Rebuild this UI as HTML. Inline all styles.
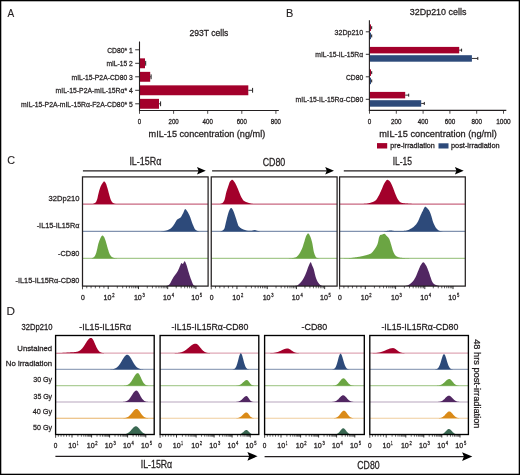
<!DOCTYPE html>
<html><head><meta charset="utf-8"><style>
html,body{margin:0;padding:0;background:#fff;}
svg{display:block;will-change:transform;}
text{font-family:"Liberation Sans", sans-serif;stroke:#231F20;stroke-width:0.27px;}
</style></head><body>
<svg width="520" height="475" viewBox="0 0 520 475">
<rect width="520" height="475" fill="#fff"/>
<rect x="0.6" y="0.6" width="518.8" height="473.8" fill="none" stroke="#000" stroke-width="1.4"/>
<text x="7.6" y="16.6" font-size="11.5" textLength="6.7" lengthAdjust="spacingAndGlyphs" fill="#231F20" style="stroke-width:0.12px">A</text>
<text x="189.5" y="36.2" font-size="9" textLength="38.9" lengthAdjust="spacingAndGlyphs" fill="#231F20" >293T cells</text>
<text x="107.2" y="52.6" font-size="7.6" textLength="25.6" lengthAdjust="spacingAndGlyphs" fill="#231F20" >CD80* 1</text>
<line x1="135.2" y1="49.8" x2="139.5" y2="49.8" stroke="#231F20" stroke-width="0.9"/>
<text x="106.4" y="66.1" font-size="7.6" textLength="26.4" lengthAdjust="spacingAndGlyphs" fill="#231F20" >mIL-15 2</text>
<line x1="135.2" y1="63.3" x2="139.5" y2="63.3" stroke="#231F20" stroke-width="0.9"/>
<text x="71.6" y="79.6" font-size="7.6" textLength="61.2" lengthAdjust="spacingAndGlyphs" fill="#231F20" >mIL-15-P2A-CD80 3</text>
<line x1="135.2" y1="76.8" x2="139.5" y2="76.8" stroke="#231F20" stroke-width="0.9"/>
<text x="55.6" y="93.1" font-size="7.6" textLength="77.2" lengthAdjust="spacingAndGlyphs" fill="#231F20" >mIL-15-P2A-mIL-15R&#945;* 4</text>
<line x1="135.2" y1="90.3" x2="139.5" y2="90.3" stroke="#231F20" stroke-width="0.9"/>
<text x="21.1" y="106.6" font-size="7.6" textLength="111.7" lengthAdjust="spacingAndGlyphs" fill="#231F20" >mIL-15-P2A-mIL-15R&#945;-F2A-CD80* 5</text>
<line x1="135.2" y1="103.8" x2="139.5" y2="103.8" stroke="#231F20" stroke-width="0.9"/>
<rect x="139.5" y="58.35" width="5.5" height="9.9" fill="#A3002B"/>
<line x1="145" y1="63.3" x2="145.7" y2="63.3" stroke="#231F20" stroke-width="0.9"/>
<line x1="145.7" y1="60.9" x2="145.7" y2="65.7" stroke="#231F20" stroke-width="1"/>
<rect x="139.5" y="71.85" width="10.7" height="9.9" fill="#A3002B"/>
<line x1="150.2" y1="76.8" x2="151.1" y2="76.8" stroke="#231F20" stroke-width="0.9"/>
<line x1="151.1" y1="74.4" x2="151.1" y2="79.2" stroke="#231F20" stroke-width="1"/>
<rect x="139.5" y="85.35" width="108.8" height="9.9" fill="#A3002B"/>
<line x1="248.3" y1="90.3" x2="252.6" y2="90.3" stroke="#231F20" stroke-width="0.9"/>
<line x1="252.6" y1="87.9" x2="252.6" y2="92.7" stroke="#231F20" stroke-width="1"/>
<rect x="139.5" y="98.85" width="19.5" height="9.9" fill="#A3002B"/>
<line x1="159" y1="103.8" x2="160.6" y2="103.8" stroke="#231F20" stroke-width="0.9"/>
<line x1="160.6" y1="101.4" x2="160.6" y2="106.2" stroke="#231F20" stroke-width="1"/>
<line x1="139.5" y1="41.5" x2="139.5" y2="111.1" stroke="#231F20" stroke-width="1.1"/>
<line x1="139" y1="110.5" x2="278.8" y2="110.5" stroke="#231F20" stroke-width="1.1"/>
<line x1="139.5" y1="110.5" x2="139.5" y2="113.8" stroke="#231F20" stroke-width="0.8"/>
<line x1="173.6" y1="110.5" x2="173.6" y2="113.8" stroke="#231F20" stroke-width="0.8"/>
<line x1="207.7" y1="110.5" x2="207.7" y2="113.8" stroke="#231F20" stroke-width="0.8"/>
<line x1="241.8" y1="110.5" x2="241.8" y2="113.8" stroke="#231F20" stroke-width="0.8"/>
<line x1="275.9" y1="110.5" x2="275.9" y2="113.8" stroke="#231F20" stroke-width="0.8"/>
<text x="137.8" y="124" font-size="6.5" textLength="3.4" lengthAdjust="spacingAndGlyphs" fill="#231F20" >0</text>
<text x="168.5" y="124" font-size="6.5" textLength="10.2" lengthAdjust="spacingAndGlyphs" fill="#231F20" >200</text>
<text x="202.6" y="124" font-size="6.5" textLength="10.2" lengthAdjust="spacingAndGlyphs" fill="#231F20" >400</text>
<text x="236.7" y="124" font-size="6.5" textLength="10.2" lengthAdjust="spacingAndGlyphs" fill="#231F20" >600</text>
<text x="270.8" y="124" font-size="6.5" textLength="10.2" lengthAdjust="spacingAndGlyphs" fill="#231F20" >800</text>
<text x="148.6" y="137" font-size="9.1" textLength="116.6" lengthAdjust="spacingAndGlyphs" fill="#231F20" >mIL-15 concentration (ng/ml)</text>
<text x="285.9" y="16.9" font-size="11.5" textLength="7.3" lengthAdjust="spacingAndGlyphs" fill="#231F20" style="stroke-width:0.12px">B</text>
<text x="409.8" y="14.7" font-size="9" textLength="56.6" lengthAdjust="spacingAndGlyphs" fill="#231F20" >32Dp210 cells</text>
<text x="334.6" y="34.6" font-size="7.6" textLength="28.6" lengthAdjust="spacingAndGlyphs" fill="#231F20" >32Dp210</text>
<line x1="365.8" y1="31.8" x2="369.4" y2="31.8" stroke="#231F20" stroke-width="0.9"/>
<text x="315.3" y="57.1" font-size="7.6" textLength="47.9" lengthAdjust="spacingAndGlyphs" fill="#231F20" >mIL-15-IL-15R&#945;</text>
<line x1="365.8" y1="54.3" x2="369.4" y2="54.3" stroke="#231F20" stroke-width="0.9"/>
<text x="345.9" y="79.6" font-size="7.6" textLength="17.3" lengthAdjust="spacingAndGlyphs" fill="#231F20" >CD80</text>
<line x1="365.8" y1="76.8" x2="369.4" y2="76.8" stroke="#231F20" stroke-width="0.9"/>
<text x="295.6" y="102.1" font-size="7.6" textLength="67.6" lengthAdjust="spacingAndGlyphs" fill="#231F20" >mIL-15-IL-15R&#945;-CD80</text>
<line x1="365.8" y1="99.3" x2="369.4" y2="99.3" stroke="#231F20" stroke-width="0.9"/>
<rect x="369.4" y="24.4" width="1.6" height="6.5" fill="#A3002B"/>
<line x1="371" y1="27.65" x2="371.7" y2="27.65" stroke="#231F20" stroke-width="0.9"/>
<line x1="371.7" y1="26.15" x2="371.7" y2="29.15" stroke="#231F20" stroke-width="1"/>
<rect x="369.4" y="32.7" width="1.6" height="6.5" fill="#2D4A7A"/>
<line x1="371" y1="35.95" x2="371.7" y2="35.95" stroke="#231F20" stroke-width="0.9"/>
<line x1="371.7" y1="34.45" x2="371.7" y2="37.45" stroke="#231F20" stroke-width="1"/>
<rect x="369.4" y="46.9" width="89.8" height="6.5" fill="#A3002B"/>
<line x1="459.2" y1="50.15" x2="461.6" y2="50.15" stroke="#231F20" stroke-width="0.9"/>
<line x1="461.6" y1="48.65" x2="461.6" y2="51.65" stroke="#231F20" stroke-width="1"/>
<rect x="369.4" y="55.2" width="102.5" height="6.5" fill="#2D4A7A"/>
<line x1="471.9" y1="58.45" x2="477.8" y2="58.45" stroke="#231F20" stroke-width="0.9"/>
<line x1="477.8" y1="56.95" x2="477.8" y2="59.95" stroke="#231F20" stroke-width="1"/>
<rect x="369.4" y="69.4" width="1.6" height="6.5" fill="#A3002B"/>
<line x1="371" y1="72.65" x2="371.7" y2="72.65" stroke="#231F20" stroke-width="0.9"/>
<line x1="371.7" y1="71.15" x2="371.7" y2="74.15" stroke="#231F20" stroke-width="1"/>
<rect x="369.4" y="77.7" width="1.6" height="6.5" fill="#2D4A7A"/>
<line x1="371" y1="80.95" x2="371.7" y2="80.95" stroke="#231F20" stroke-width="0.9"/>
<line x1="371.7" y1="79.45" x2="371.7" y2="82.45" stroke="#231F20" stroke-width="1"/>
<rect x="369.4" y="91.9" width="35.8" height="6.5" fill="#A3002B"/>
<line x1="405.2" y1="95.15" x2="408.7" y2="95.15" stroke="#231F20" stroke-width="0.9"/>
<line x1="408.7" y1="93.65" x2="408.7" y2="96.65" stroke="#231F20" stroke-width="1"/>
<rect x="369.4" y="100.2" width="51.8" height="6.5" fill="#2D4A7A"/>
<line x1="421.2" y1="103.45" x2="424.3" y2="103.45" stroke="#231F20" stroke-width="0.9"/>
<line x1="424.3" y1="101.95" x2="424.3" y2="104.95" stroke="#231F20" stroke-width="1"/>
<line x1="369.4" y1="20.2" x2="369.4" y2="111" stroke="#231F20" stroke-width="1.1"/>
<line x1="368.9" y1="110.4" x2="506.3" y2="110.4" stroke="#231F20" stroke-width="1.1"/>
<line x1="369.5" y1="110.4" x2="369.5" y2="113.7" stroke="#231F20" stroke-width="0.8"/>
<line x1="396.3" y1="110.4" x2="396.3" y2="113.7" stroke="#231F20" stroke-width="0.8"/>
<line x1="423.1" y1="110.4" x2="423.1" y2="113.7" stroke="#231F20" stroke-width="0.8"/>
<line x1="449.9" y1="110.4" x2="449.9" y2="113.7" stroke="#231F20" stroke-width="0.8"/>
<line x1="476.7" y1="110.4" x2="476.7" y2="113.7" stroke="#231F20" stroke-width="0.8"/>
<line x1="503.5" y1="110.4" x2="503.5" y2="113.7" stroke="#231F20" stroke-width="0.8"/>
<text x="367.75" y="123.8" font-size="6.5" textLength="3.5" lengthAdjust="spacingAndGlyphs" fill="#231F20" >0</text>
<text x="391.05" y="123.8" font-size="6.5" textLength="10.5" lengthAdjust="spacingAndGlyphs" fill="#231F20" >200</text>
<text x="417.85" y="123.8" font-size="6.5" textLength="10.5" lengthAdjust="spacingAndGlyphs" fill="#231F20" >400</text>
<text x="444.65" y="123.8" font-size="6.5" textLength="10.5" lengthAdjust="spacingAndGlyphs" fill="#231F20" >600</text>
<text x="471.45" y="123.8" font-size="6.5" textLength="10.5" lengthAdjust="spacingAndGlyphs" fill="#231F20" >800</text>
<text x="496.25" y="123.8" font-size="6.5" textLength="14.5" lengthAdjust="spacingAndGlyphs" fill="#231F20" >1000</text>
<text x="379.2" y="136.7" font-size="9.1" textLength="117.7" lengthAdjust="spacingAndGlyphs" fill="#231F20" >mIL-15 concentration (ng/ml)</text>
<rect x="377" y="143.1" width="10.2" height="5.4" fill="#A3002B"/>
<text x="390.3" y="148.2" font-size="7" textLength="44.5" lengthAdjust="spacingAndGlyphs" fill="#231F20" >pre-irradiation</text>
<rect x="438.5" y="143.3" width="10" height="5.2" fill="#2D4A7A"/>
<text x="451" y="148.2" font-size="7" textLength="48.7" lengthAdjust="spacingAndGlyphs" fill="#231F20" >post-irradiation</text>
<text x="7.2" y="163.9" font-size="11.5" textLength="7.8" lengthAdjust="spacingAndGlyphs" fill="#231F20" style="stroke-width:0.12px">C</text>
<text x="129.4" y="165.1" font-size="10" textLength="31.9" lengthAdjust="spacingAndGlyphs" fill="#231F20" >IL-15R&#945;</text>
<text x="262.7" y="165.6" font-size="10" textLength="22.6" lengthAdjust="spacingAndGlyphs" fill="#231F20" >CD80</text>
<text x="392.7" y="165.3" font-size="10" textLength="19.4" lengthAdjust="spacingAndGlyphs" fill="#231F20" >IL-15</text>
<line x1="82.9" y1="170.8" x2="200.52" y2="170.8" stroke="#231F20" stroke-width="1.3"/>
<path d="M205.8,170.8 L197,167.1 L198.58,170.8 L197,174.5 Z" fill="#000"/>
<line x1="212.1" y1="170.8" x2="328.72" y2="170.8" stroke="#231F20" stroke-width="1.3"/>
<path d="M334,170.8 L325.2,167.1 L326.78,170.8 L325.2,174.5 Z" fill="#000"/>
<line x1="343.8" y1="170.8" x2="458.42" y2="170.8" stroke="#231F20" stroke-width="1.3"/>
<path d="M463.7,170.8 L454.9,167.1 L456.48,170.8 L454.9,174.5 Z" fill="#000"/>
<line x1="82.5" y1="204.1" x2="208.1" y2="204.1" stroke="#A3002B" stroke-width="1.2" stroke-opacity="0.6"/>
<line x1="82.5" y1="231.4" x2="208.1" y2="231.4" stroke="#2D4A7A" stroke-width="1.2" stroke-opacity="0.6"/>
<line x1="82.5" y1="258.4" x2="208.1" y2="258.4" stroke="#6BA543" stroke-width="1.2" stroke-opacity="0.6"/>
<line x1="211.25" y1="204.1" x2="337.1" y2="204.1" stroke="#A3002B" stroke-width="1.2" stroke-opacity="0.6"/>
<line x1="211.25" y1="231.4" x2="337.1" y2="231.4" stroke="#2D4A7A" stroke-width="1.2" stroke-opacity="0.6"/>
<line x1="211.25" y1="258.4" x2="337.1" y2="258.4" stroke="#6BA543" stroke-width="1.2" stroke-opacity="0.6"/>
<line x1="339.6" y1="204.1" x2="465.3" y2="204.1" stroke="#A3002B" stroke-width="1.2" stroke-opacity="0.6"/>
<line x1="339.6" y1="231.4" x2="465.3" y2="231.4" stroke="#2D4A7A" stroke-width="1.2" stroke-opacity="0.6"/>
<line x1="339.6" y1="258.4" x2="465.3" y2="258.4" stroke="#6BA543" stroke-width="1.2" stroke-opacity="0.6"/>
<path d="M92.5,204.1 L92.5,204.1 L92.75,204.01 L93,203.92 L93.25,203.81 L93.5,203.7 L93.75,203.58 L94,203.46 L94.25,203.34 L94.5,203.21 L94.75,203.06 L95,202.9 L95.25,202.71 L95.5,202.49 L95.75,202.24 L96,201.88 L96.25,201.44 L96.5,200.92 L96.75,200.32 L97,199.67 L97.25,198.92 L97.5,197.92 L97.75,196.76 L98,195.57 L98.25,194.49 L98.5,193.46 L98.75,192.43 L99,191.43 L99.25,190.51 L99.5,189.68 L99.75,188.9 L100,188.16 L100.25,187.46 L100.5,186.81 L100.75,186.22 L101,185.69 L101.25,185.2 L101.5,184.74 L101.75,184.3 L102,183.9 L102.25,183.52 L102.5,183.17 L102.75,182.83 L103,182.48 L103.25,182.13 L103.5,181.8 L103.75,181.55 L104,181.41 L104.25,181.42 L104.5,181.55 L104.75,181.77 L105,182.06 L105.25,182.39 L105.5,182.75 L105.75,183.15 L106,183.69 L106.25,184.36 L106.5,185.1 L106.75,185.89 L107,186.69 L107.25,187.48 L107.5,188.32 L107.75,189.2 L108,190.11 L108.25,191.02 L108.5,191.94 L108.75,192.89 L109,193.85 L109.25,194.77 L109.5,195.65 L109.75,196.52 L110,197.4 L110.25,198.24 L110.5,199 L110.75,199.67 L111,200.2 L111.25,200.69 L111.5,201.15 L111.75,201.56 L112,201.94 L112.25,202.26 L112.5,202.53 L112.75,202.74 L113,202.91 L113.25,203.08 L113.5,203.22 L113.75,203.35 L114,203.46 L114.25,203.56 L114.5,203.64 L114.75,203.71 L115,203.78 L115.25,203.84 L115.5,203.9 L115.75,203.95 L116,204 L116.25,204.04 L116.5,204.07 L116.75,204.09 L117,204.1 L117,204.1 Z" fill="#A3002B"/>
<path d="M160.5,231.4 L160.5,231.4 L160.75,231.4 L161,231.39 L161.25,231.38 L161.5,231.36 L161.75,231.34 L162,231.32 L162.25,231.29 L162.5,231.26 L162.75,231.23 L163,231.19 L163.25,231.15 L163.5,231.11 L163.75,231.07 L164,231.02 L164.25,230.97 L164.5,230.92 L164.75,230.87 L165,230.82 L165.25,230.77 L165.5,230.71 L165.75,230.66 L166,230.6 L166.25,230.54 L166.5,230.48 L166.75,230.4 L167,230.33 L167.25,230.24 L167.5,230.15 L167.75,230.05 L168,229.95 L168.25,229.84 L168.5,229.73 L168.75,229.61 L169,229.48 L169.25,229.35 L169.5,229.21 L169.75,229.07 L170,228.92 L170.25,228.76 L170.5,228.6 L170.75,228.43 L171,228.25 L171.25,228.04 L171.5,227.81 L171.75,227.55 L172,227.26 L172.25,226.96 L172.5,226.64 L172.75,226.32 L173,225.98 L173.25,225.63 L173.5,225.28 L173.75,224.93 L174,224.58 L174.25,224.23 L174.5,223.86 L174.75,223.45 L175,223.02 L175.25,222.57 L175.5,222.11 L175.75,221.66 L176,221.23 L176.25,220.81 L176.5,220.43 L176.75,220.09 L177,219.8 L177.25,219.56 L177.5,219.36 L177.75,219.18 L178,219.02 L178.25,218.88 L178.5,218.74 L178.75,218.61 L179,218.49 L179.25,218.35 L179.5,218.22 L179.75,218.07 L180,217.9 L180.25,217.71 L180.5,217.49 L180.75,217.24 L181,216.93 L181.25,216.58 L181.5,216.17 L181.75,215.74 L182,215.28 L182.25,214.81 L182.5,214.33 L182.75,213.86 L183,213.4 L183.25,212.89 L183.5,212.3 L183.75,211.65 L184,211.01 L184.25,210.39 L184.5,209.86 L184.75,209.43 L185,209.17 L185.25,209.1 L185.5,209.18 L185.75,209.34 L186,209.59 L186.25,209.89 L186.5,210.23 L186.75,210.59 L187,210.97 L187.25,211.33 L187.5,211.69 L187.75,212.08 L188,212.5 L188.25,212.95 L188.5,213.43 L188.75,213.92 L189,214.44 L189.25,214.98 L189.5,215.53 L189.75,216.09 L190,216.67 L190.25,217.32 L190.5,218.01 L190.75,218.73 L191,219.48 L191.25,220.24 L191.5,221 L191.75,221.76 L192,222.48 L192.25,223.18 L192.5,223.82 L192.75,224.41 L193,225 L193.25,225.6 L193.5,226.2 L193.75,226.79 L194,227.36 L194.25,227.9 L194.5,228.41 L194.75,228.86 L195,229.26 L195.25,229.58 L195.5,229.83 L195.75,230 L196,230.15 L196.25,230.3 L196.5,230.45 L196.75,230.58 L197,230.71 L197.25,230.83 L197.5,230.93 L197.75,231.03 L198,231.12 L198.25,231.2 L198.5,231.26 L198.75,231.32 L199,231.36 L199.25,231.39 L199.5,231.4 L199.5,231.4 Z" fill="#2D4A7A"/>
<path d="M91.5,258.4 L91.5,258.4 L91.75,258.32 L92,258.22 L92.25,258.12 L92.5,258 L92.75,257.87 L93,257.74 L93.25,257.6 L93.5,257.45 L93.75,257.27 L94,257.08 L94.25,256.85 L94.5,256.6 L94.75,256.27 L95,255.84 L95.25,255.31 L95.5,254.72 L95.75,254.08 L96,253.4 L96.25,252.63 L96.5,251.74 L96.75,250.76 L97,249.73 L97.25,248.69 L97.5,247.54 L97.75,246.32 L98,245.13 L98.25,244.08 L98.5,243.22 L98.75,242.43 L99,241.7 L99.25,241.02 L99.5,240.37 L99.75,239.76 L100,239.16 L100.25,238.56 L100.5,237.98 L100.75,237.43 L101,236.96 L101.25,236.57 L101.5,236.24 L101.75,235.93 L102,235.66 L102.25,235.47 L102.5,235.4 L102.75,235.46 L103,235.63 L103.25,235.88 L103.5,236.2 L103.75,236.54 L104,236.9 L104.25,237.32 L104.5,237.85 L104.75,238.47 L105,239.15 L105.25,239.87 L105.5,240.61 L105.75,241.36 L106,242.18 L106.25,243.06 L106.5,243.97 L106.75,244.87 L107,245.75 L107.25,246.65 L107.5,247.56 L107.75,248.44 L108,249.28 L108.25,250.07 L108.5,250.86 L108.75,251.63 L109,252.38 L109.25,253.07 L109.5,253.68 L109.75,254.21 L110,254.65 L110.25,255.07 L110.5,255.46 L110.75,255.82 L111,256.14 L111.25,256.43 L111.5,256.67 L111.75,256.87 L112,257.02 L112.25,257.17 L112.5,257.3 L112.75,257.42 L113,257.53 L113.25,257.64 L113.5,257.73 L113.75,257.81 L114,257.88 L114.25,257.95 L114.5,258 L114.75,258.05 L115,258.1 L115.25,258.15 L115.5,258.19 L115.75,258.24 L116,258.28 L116.25,258.31 L116.5,258.34 L116.75,258.37 L117,258.38 L117.25,258.4 L117.5,258.4 L117.5,258.4 Z" fill="#6BA543"/>
<path d="M165,286.1 L165,286.1 L165.25,286.09 L165.5,286.07 L165.75,286.04 L166,286 L166.25,285.94 L166.5,285.88 L166.75,285.8 L167,285.72 L167.25,285.63 L167.5,285.54 L167.75,285.43 L168,285.33 L168.25,285.21 L168.5,285.1 L168.75,284.96 L169,284.76 L169.25,284.51 L169.5,284.22 L169.75,283.89 L170,283.53 L170.25,283.13 L170.5,282.71 L170.75,282.26 L171,281.8 L171.25,281.32 L171.5,280.84 L171.75,280.35 L172,279.86 L172.25,279.37 L172.5,278.89 L172.75,278.43 L173,277.98 L173.25,277.55 L173.5,277.15 L173.75,276.78 L174,276.42 L174.25,276.07 L174.5,275.74 L174.75,275.41 L175,275.08 L175.25,274.76 L175.5,274.44 L175.75,274.11 L176,273.78 L176.25,273.44 L176.5,273.09 L176.75,272.73 L177,272.35 L177.25,271.96 L177.5,271.55 L177.75,271.11 L178,270.64 L178.25,270.12 L178.5,269.57 L178.75,268.99 L179,268.4 L179.25,267.8 L179.5,267.2 L179.75,266.61 L180,266.04 L180.25,265.49 L180.5,264.85 L180.75,264.16 L181,263.56 L181.25,263.17 L181.5,263.11 L181.75,263.23 L182,263.41 L182.25,263.63 L182.5,263.81 L182.75,263.9 L183,263.81 L183.25,263.49 L183.5,263.03 L183.75,262.49 L184,261.97 L184.25,261.56 L184.5,261.32 L184.75,261.34 L185,261.57 L185.25,261.95 L185.5,262.46 L185.75,263.03 L186,263.63 L186.25,264.22 L186.5,264.89 L186.75,265.67 L187,266.53 L187.25,267.44 L187.5,268.36 L187.75,269.26 L188,270.1 L188.25,270.91 L188.5,271.72 L188.75,272.54 L189,273.35 L189.25,274.16 L189.5,274.96 L189.75,275.74 L190,276.51 L190.25,277.25 L190.5,277.97 L190.75,278.65 L191,279.3 L191.25,279.94 L191.5,280.61 L191.75,281.28 L192,281.95 L192.25,282.6 L192.5,283.21 L192.75,283.77 L193,284.27 L193.25,284.7 L193.5,285.04 L193.75,285.27 L194,285.42 L194.25,285.56 L194.5,285.69 L194.75,285.8 L195,285.9 L195.25,285.99 L195.5,286.05 L195.75,286.09 L196,286.1 L196,286.1 Z" fill="#512762"/>
<path d="M219,204.1 L219,204.1 L219.25,204.09 L219.5,204.07 L219.75,204.04 L220,203.99 L220.25,203.94 L220.5,203.87 L220.75,203.79 L221,203.71 L221.25,203.61 L221.5,203.52 L221.75,203.41 L222,203.3 L222.25,203.16 L222.5,202.98 L222.75,202.76 L223,202.5 L223.25,202.19 L223.5,201.85 L223.75,201.47 L224,201.05 L224.25,200.6 L224.5,199.97 L224.75,199.12 L225,198.1 L225.25,196.98 L225.5,195.8 L225.75,194.61 L226,193.48 L226.25,192.45 L226.5,191.56 L226.75,190.74 L227,189.95 L227.25,189.2 L227.5,188.46 L227.75,187.73 L228,187.01 L228.25,186.24 L228.5,185.45 L228.75,184.65 L229,183.89 L229.25,183.17 L229.5,182.54 L229.75,182 L230,181.6 L230.25,181.27 L230.5,180.96 L230.75,180.66 L231,180.39 L231.25,180.15 L231.5,179.95 L231.75,179.81 L232,179.72 L232.25,179.7 L232.5,179.77 L232.75,179.91 L233,180.12 L233.25,180.39 L233.5,180.7 L233.75,181.04 L234,181.4 L234.25,181.75 L234.5,182.1 L234.75,182.46 L235,182.85 L235.25,183.28 L235.5,183.74 L235.75,184.23 L236,184.74 L236.25,185.27 L236.5,185.81 L236.75,186.37 L237,186.93 L237.25,187.49 L237.5,188.05 L237.75,188.61 L238,189.19 L238.25,189.8 L238.5,190.42 L238.75,191.04 L239,191.66 L239.25,192.26 L239.5,192.89 L239.75,193.53 L240,194.17 L240.25,194.79 L240.5,195.4 L240.75,195.98 L241,196.52 L241.25,197.01 L241.5,197.45 L241.75,197.89 L242,198.32 L242.25,198.74 L242.5,199.13 L242.75,199.51 L243,199.86 L243.25,200.18 L243.5,200.46 L243.75,200.7 L244,200.9 L244.25,201.07 L244.5,201.23 L244.75,201.37 L245,201.5 L245.25,201.63 L245.5,201.74 L245.75,201.85 L246,201.95 L246.25,202.05 L246.5,202.14 L246.75,202.23 L247,202.32 L247.25,202.41 L247.5,202.5 L247.75,202.59 L248,202.68 L248.25,202.77 L248.5,202.86 L248.75,202.94 L249,203.03 L249.25,203.11 L249.5,203.19 L249.75,203.27 L250,203.35 L250.25,203.42 L250.5,203.49 L250.75,203.55 L251,203.61 L251.25,203.67 L251.5,203.72 L251.75,203.76 L252,203.8 L252.25,203.84 L252.5,203.87 L252.75,203.9 L253,203.94 L253.25,203.97 L253.5,203.99 L253.75,204.02 L254,204.04 L254.25,204.06 L254.5,204.08 L254.75,204.09 L255,204.1 L255,204.1 Z" fill="#A3002B"/>
<path d="M220,231.4 L220,231.4 L220.25,231.38 L220.5,231.34 L220.75,231.28 L221,231.2 L221.25,231.11 L221.5,231.02 L221.75,230.91 L222,230.8 L222.25,230.68 L222.5,230.55 L222.75,230.39 L223,230.21 L223.25,230 L223.5,229.76 L223.75,229.49 L224,229.18 L224.25,228.82 L224.5,228.24 L224.75,227.4 L225,226.4 L225.25,225.29 L225.5,224.17 L225.75,223.1 L226,222.09 L226.25,221.03 L226.5,219.95 L226.75,218.88 L227,217.85 L227.25,216.88 L227.5,215.97 L227.75,215.06 L228,214.16 L228.25,213.28 L228.5,212.46 L228.75,211.71 L229,211.05 L229.25,210.5 L229.5,210.03 L229.75,209.56 L230,209.12 L230.25,208.71 L230.5,208.37 L230.75,208.1 L231,207.94 L231.25,207.9 L231.5,208 L231.75,208.21 L232,208.52 L232.25,208.91 L232.5,209.35 L232.75,209.83 L233,210.32 L233.25,210.81 L233.5,211.3 L233.75,211.88 L234,212.53 L234.25,213.22 L234.5,213.96 L234.75,214.73 L235,215.5 L235.25,216.28 L235.5,217.03 L235.75,217.76 L236,218.48 L236.25,219.25 L236.5,220.05 L236.75,220.88 L237,221.72 L237.25,222.54 L237.5,223.33 L237.75,224.08 L238,224.77 L238.25,225.39 L238.5,225.9 L238.75,226.31 L239,226.61 L239.25,226.86 L239.5,227.1 L239.75,227.33 L240,227.54 L240.25,227.74 L240.5,227.93 L240.75,228.11 L241,228.27 L241.25,228.43 L241.5,228.57 L241.75,228.71 L242,228.84 L242.25,228.96 L242.5,229.08 L242.75,229.19 L243,229.29 L243.25,229.39 L243.5,229.49 L243.75,229.58 L244,229.67 L244.25,229.76 L244.5,229.85 L244.75,229.94 L245,230.03 L245.25,230.11 L245.5,230.19 L245.75,230.27 L246,230.34 L246.25,230.41 L246.5,230.47 L246.75,230.53 L247,230.58 L247.25,230.62 L247.5,230.65 L247.75,230.68 L248,230.7 L248.25,230.71 L248.5,230.73 L248.75,230.74 L249,230.75 L249.25,230.76 L249.5,230.77 L249.75,230.78 L250,230.79 L250.25,230.79 L250.5,230.8 L250.75,230.8 L251,230.8 L251.25,230.79 L251.5,230.77 L251.75,230.73 L252,230.68 L252.25,230.62 L252.5,230.56 L252.75,230.49 L253,230.42 L253.25,230.35 L253.5,230.29 L253.75,230.23 L254,230.18 L254.25,230.14 L254.5,230.11 L254.75,230.1 L255,230.11 L255.25,230.15 L255.5,230.21 L255.75,230.28 L256,230.37 L256.25,230.46 L256.5,230.55 L256.75,230.63 L257,230.7 L257.25,230.76 L257.5,230.82 L257.75,230.89 L258,230.95 L258.25,231.01 L258.5,231.07 L258.75,231.12 L259,231.18 L259.25,231.24 L259.5,231.29 L259.75,231.35 L260,231.4 L260,231.4 Z" fill="#2D4A7A"/>
<path d="M288,258.4 L288,258.4 L288.25,258.4 L288.5,258.39 L288.75,258.38 L289,258.37 L289.25,258.36 L289.5,258.34 L289.75,258.32 L290,258.3 L290.25,258.28 L290.5,258.26 L290.75,258.23 L291,258.21 L291.25,258.18 L291.5,258.16 L291.75,258.13 L292,258.1 L292.25,258.07 L292.5,258.04 L292.75,258.01 L293,257.97 L293.25,257.93 L293.5,257.89 L293.75,257.84 L294,257.79 L294.25,257.74 L294.5,257.68 L294.75,257.62 L295,257.55 L295.25,257.48 L295.5,257.4 L295.75,257.32 L296,257.22 L296.25,257.08 L296.5,256.92 L296.75,256.73 L297,256.51 L297.25,256.27 L297.5,256.02 L297.75,255.75 L298,255.47 L298.25,255.19 L298.5,254.9 L298.75,254.59 L299,254.25 L299.25,253.88 L299.5,253.49 L299.75,253.08 L300,252.65 L300.25,252.21 L300.5,251.76 L300.75,251.29 L301,250.8 L301.25,250.29 L301.5,249.76 L301.75,249.2 L302,248.63 L302.25,248.02 L302.5,247.38 L302.75,246.68 L303,245.94 L303.25,245.16 L303.5,244.37 L303.75,243.58 L304,242.8 L304.25,242 L304.5,241.13 L304.75,240.24 L305,239.35 L305.25,238.48 L305.5,237.66 L305.75,236.93 L306,236.3 L306.25,235.81 L306.5,235.36 L306.75,234.92 L307,234.51 L307.25,234.14 L307.5,233.82 L307.75,233.58 L308,233.44 L308.25,233.4 L308.5,233.5 L308.75,233.73 L309,234.06 L309.25,234.48 L309.5,234.95 L309.75,235.46 L310,235.99 L310.25,236.5 L310.5,237.08 L310.75,237.74 L311,238.47 L311.25,239.28 L311.5,240.14 L311.75,241.05 L312,242.01 L312.25,243.01 L312.5,244.21 L312.75,245.63 L313,247.18 L313.25,248.74 L313.5,250.22 L313.75,251.54 L314,252.58 L314.25,253.33 L314.5,254.02 L314.75,254.68 L315,255.3 L315.25,255.87 L315.5,256.38 L315.75,256.82 L316,257.18 L316.25,257.47 L316.5,257.65 L316.75,257.76 L317,257.85 L317.25,257.93 L317.5,258.01 L317.75,258.08 L318,258.15 L318.25,258.2 L318.5,258.25 L318.75,258.3 L319,258.33 L319.25,258.36 L319.5,258.38 L319.75,258.4 L320,258.4 L320,258.4 Z" fill="#6BA543"/>
<path d="M291,286.1 L291,286.1 L291.25,286.1 L291.5,286.1 L291.75,286.09 L292,286.09 L292.25,286.08 L292.5,286.07 L292.75,286.06 L293,286.04 L293.25,286.03 L293.5,286.01 L293.75,285.99 L294,285.97 L294.25,285.95 L294.5,285.93 L294.75,285.9 L295,285.88 L295.25,285.85 L295.5,285.82 L295.75,285.79 L296,285.76 L296.25,285.72 L296.5,285.68 L296.75,285.62 L297,285.52 L297.25,285.39 L297.5,285.25 L297.75,285.08 L298,284.89 L298.25,284.69 L298.5,284.48 L298.75,284.26 L299,284.04 L299.25,283.82 L299.5,283.6 L299.75,283.38 L300,283.14 L300.25,282.88 L300.5,282.61 L300.75,282.32 L301,282.03 L301.25,281.72 L301.5,281.4 L301.75,281.07 L302,280.74 L302.25,280.39 L302.5,280.03 L302.75,279.66 L303,279.27 L303.25,278.87 L303.5,278.45 L303.75,278.01 L304,277.56 L304.25,277.09 L304.5,276.6 L304.75,276.08 L305,275.53 L305.25,274.95 L305.5,274.34 L305.75,273.71 L306,273.08 L306.25,272.44 L306.5,271.8 L306.75,271.14 L307,270.45 L307.25,269.73 L307.5,269.01 L307.75,268.29 L308,267.58 L308.25,266.91 L308.5,266.28 L308.75,265.71 L309,265.16 L309.25,264.58 L309.5,264 L309.75,263.45 L310,262.97 L310.25,262.6 L310.5,262.36 L310.75,262.31 L311,262.54 L311.25,263.02 L311.5,263.67 L311.75,264.39 L312,265.1 L312.25,265.71 L312.5,266.26 L312.75,266.79 L313,267.35 L313.25,267.94 L313.5,268.6 L313.75,269.37 L314,270.27 L314.25,271.26 L314.5,272.32 L314.75,273.4 L315,274.48 L315.25,275.52 L315.5,276.49 L315.75,277.36 L316,278.1 L316.25,278.74 L316.5,279.36 L316.75,279.93 L317,280.48 L317.25,280.99 L317.5,281.46 L317.75,281.9 L318,282.3 L318.25,282.67 L318.5,283.02 L318.75,283.35 L319,283.67 L319.25,283.96 L319.5,284.24 L319.75,284.49 L320,284.71 L320.25,284.9 L320.5,285.06 L320.75,285.21 L321,285.36 L321.25,285.5 L321.5,285.63 L321.75,285.75 L322,285.86 L322.25,285.95 L322.5,286.02 L322.75,286.07 L323,286.1 L323,286.1 Z" fill="#512762"/>
<path d="M358,204.1 L358,204.1 L358.25,204.1 L358.5,204.1 L358.75,204.1 L359,204.09 L359.25,204.09 L359.5,204.08 L359.75,204.08 L360,204.07 L360.25,204.06 L360.5,204.06 L360.75,204.05 L361,204.04 L361.25,204.03 L361.5,204.02 L361.75,204 L362,203.99 L362.25,203.98 L362.5,203.97 L362.75,203.95 L363,203.94 L363.25,203.92 L363.5,203.91 L363.75,203.89 L364,203.87 L364.25,203.85 L364.5,203.84 L364.75,203.82 L365,203.8 L365.25,203.78 L365.5,203.76 L365.75,203.74 L366,203.72 L366.25,203.7 L366.5,203.67 L366.75,203.64 L367,203.61 L367.25,203.57 L367.5,203.52 L367.75,203.47 L368,203.42 L368.25,203.37 L368.5,203.31 L368.75,203.25 L369,203.18 L369.25,203.11 L369.5,203.04 L369.75,202.97 L370,202.9 L370.25,202.83 L370.5,202.75 L370.75,202.68 L371,202.6 L371.25,202.52 L371.5,202.44 L371.75,202.36 L372,202.28 L372.25,202.19 L372.5,202.1 L372.75,202.01 L373,201.91 L373.25,201.8 L373.5,201.69 L373.75,201.57 L374,201.45 L374.25,201.32 L374.5,201.18 L374.75,201.03 L375,200.87 L375.25,200.71 L375.5,200.52 L375.75,200.3 L376,200.04 L376.25,199.74 L376.5,199.41 L376.75,199.05 L377,198.66 L377.25,198.26 L377.5,197.84 L377.75,197.41 L378,196.97 L378.25,196.53 L378.5,196.1 L378.75,195.66 L379,195.19 L379.25,194.7 L379.5,194.18 L379.75,193.66 L380,193.12 L380.25,192.57 L380.5,192.01 L380.75,191.46 L381,190.9 L381.25,190.35 L381.5,189.8 L381.75,189.24 L382,188.66 L382.25,188.05 L382.5,187.44 L382.75,186.82 L383,186.2 L383.25,185.6 L383.5,185.02 L383.75,184.48 L384,183.97 L384.25,183.51 L384.5,183.1 L384.75,182.72 L385,182.32 L385.25,181.93 L385.5,181.55 L385.75,181.18 L386,180.84 L386.25,180.53 L386.5,180.27 L386.75,180.05 L387,179.9 L387.25,179.81 L387.5,179.8 L387.75,179.85 L388,179.93 L388.25,180.06 L388.5,180.22 L388.75,180.41 L389,180.62 L389.25,180.85 L389.5,181.09 L389.75,181.34 L390,181.6 L390.25,181.9 L390.5,182.26 L390.75,182.69 L391,183.17 L391.25,183.68 L391.5,184.22 L391.75,184.78 L392,185.34 L392.25,185.89 L392.5,186.45 L392.75,187.03 L393,187.65 L393.25,188.29 L393.5,188.96 L393.75,189.63 L394,190.32 L394.25,191.01 L394.5,191.71 L394.75,192.39 L395,193.07 L395.25,193.73 L395.5,194.37 L395.75,194.98 L396,195.56 L396.25,196.11 L396.5,196.64 L396.75,197.17 L397,197.7 L397.25,198.2 L397.5,198.69 L397.75,199.15 L398,199.57 L398.25,199.96 L398.5,200.3 L398.75,200.61 L399,200.92 L399.25,201.22 L399.5,201.5 L399.75,201.76 L400,201.99 L400.25,202.19 L400.5,202.36 L400.75,202.48 L401,202.57 L401.25,202.66 L401.5,202.74 L401.75,202.81 L402,202.88 L402.25,202.94 L402.5,203 L402.75,203.06 L403,203.11 L403.25,203.16 L403.5,203.2 L403.75,203.24 L404,203.28 L404.25,203.31 L404.5,203.34 L404.75,203.37 L405,203.4 L405.25,203.43 L405.5,203.45 L405.75,203.47 L406,203.49 L406.25,203.51 L406.5,203.53 L406.75,203.55 L407,203.56 L407.25,203.58 L407.5,203.59 L407.75,203.61 L408,203.62 L408.25,203.64 L408.5,203.65 L408.75,203.67 L409,203.69 L409.25,203.7 L409.5,203.72 L409.75,203.74 L410,203.76 L410.25,203.77 L410.5,203.79 L410.75,203.81 L411,203.83 L411.25,203.84 L411.5,203.86 L411.75,203.88 L412,203.9 L412.25,203.91 L412.5,203.93 L412.75,203.95 L413,203.96 L413.25,203.98 L413.5,204 L413.75,204.02 L414,204.03 L414.25,204.05 L414.5,204.07 L414.75,204.08 L415,204.1 L415,204.1 Z" fill="#A3002B"/>
<path d="M384,231.4 L384,231.4 L384.25,231.35 L384.5,231.3 L384.75,231.26 L385,231.21 L385.25,231.17 L385.5,231.13 L385.75,231.08 L386,231.04 L386.25,231.01 L386.5,230.97 L386.75,230.93 L387,230.9 L387.25,230.87 L387.5,230.83 L387.75,230.8 L388,230.76 L388.25,230.73 L388.5,230.69 L388.75,230.66 L389,230.63 L389.25,230.6 L389.5,230.57 L389.75,230.55 L390,230.53 L390.25,230.51 L390.5,230.5 L390.75,230.5 L391,230.5 L391.25,230.52 L391.5,230.54 L391.75,230.57 L392,230.61 L392.25,230.65 L392.5,230.7 L392.75,230.74 L393,230.78 L393.25,230.82 L393.5,230.85 L393.75,230.88 L394,230.9 L394.25,230.91 L394.5,230.93 L394.75,230.94 L395,230.95 L395.25,230.97 L395.5,230.98 L395.75,230.99 L396,231 L396.25,231.01 L396.5,231.02 L396.75,231.03 L397,231.04 L397.25,231.05 L397.5,231.06 L397.75,231.07 L398,231.07 L398.25,231.08 L398.5,231.08 L398.75,231.09 L399,231.09 L399.25,231.1 L399.5,231.1 L399.75,231.1 L400,231.1 L400.25,231.1 L400.5,231.1 L400.75,231.09 L401,231.08 L401.25,231.08 L401.5,231.06 L401.75,231.05 L402,231.04 L402.25,231.02 L402.5,231.01 L402.75,230.99 L403,230.97 L403.25,230.94 L403.5,230.92 L403.75,230.9 L404,230.87 L404.25,230.84 L404.5,230.82 L404.75,230.79 L405,230.76 L405.25,230.73 L405.5,230.69 L405.75,230.66 L406,230.63 L406.25,230.59 L406.5,230.55 L406.75,230.5 L407,230.43 L407.25,230.36 L407.5,230.28 L407.75,230.19 L408,230.1 L408.25,230 L408.5,229.89 L408.75,229.77 L409,229.65 L409.25,229.53 L409.5,229.4 L409.75,229.27 L410,229.14 L410.25,229.01 L410.5,228.87 L410.75,228.74 L411,228.6 L411.25,228.46 L411.5,228.32 L411.75,228.17 L412,228.01 L412.25,227.85 L412.5,227.68 L412.75,227.5 L413,227.32 L413.25,227.13 L413.5,226.94 L413.75,226.73 L414,226.52 L414.25,226.31 L414.5,226.08 L414.75,225.85 L415,225.6 L415.25,225.35 L415.5,225.09 L415.75,224.81 L416,224.51 L416.25,224.19 L416.5,223.84 L416.75,223.48 L417,223.1 L417.25,222.7 L417.5,222.28 L417.75,221.85 L418,221.4 L418.25,220.91 L418.5,220.36 L418.75,219.77 L419,219.15 L419.25,218.52 L419.5,217.89 L419.75,217.28 L420,216.7 L420.25,216.14 L420.5,215.58 L420.75,215.02 L421,214.47 L421.25,213.93 L421.5,213.39 L421.75,212.87 L422,212.36 L422.25,211.87 L422.5,211.4 L422.75,210.92 L423,210.4 L423.25,209.86 L423.5,209.32 L423.75,208.79 L424,208.28 L424.25,207.82 L424.5,207.42 L424.75,207.09 L425,206.86 L425.25,206.72 L425.5,206.71 L425.75,206.8 L426,206.97 L426.25,207.2 L426.5,207.48 L426.75,207.77 L427,208.07 L427.25,208.35 L427.5,208.6 L427.75,208.85 L428,209.1 L428.25,209.37 L428.5,209.65 L428.75,209.96 L429,210.3 L429.25,210.68 L429.5,211.13 L429.75,211.66 L430,212.25 L430.25,212.9 L430.5,213.58 L430.75,214.29 L431,215.02 L431.25,215.75 L431.5,216.53 L431.75,217.4 L432,218.34 L432.25,219.29 L432.5,220.22 L432.75,221.09 L433,221.84 L433.25,222.47 L433.5,223.07 L433.75,223.65 L434,224.22 L434.25,224.77 L434.5,225.29 L434.75,225.8 L435,226.28 L435.25,226.73 L435.5,227.16 L435.75,227.56 L436,227.93 L436.25,228.27 L436.5,228.58 L436.75,228.85 L437,229.09 L437.25,229.32 L437.5,229.54 L437.75,229.75 L438,229.95 L438.25,230.14 L438.5,230.31 L438.75,230.47 L439,230.61 L439.25,230.74 L439.5,230.85 L439.75,230.93 L440,231 L440.25,231.05 L440.5,231.11 L440.75,231.16 L441,231.2 L441.25,231.24 L441.5,231.28 L441.75,231.32 L442,231.35 L442.25,231.37 L442.5,231.39 L442.75,231.4 L443,231.4 L443,231.4 Z" fill="#2D4A7A"/>
<path d="M342,258.4 L342,258.4 L342.25,258.4 L342.5,258.4 L342.75,258.4 L343,258.39 L343.25,258.39 L343.5,258.38 L343.75,258.38 L344,258.37 L344.25,258.36 L344.5,258.35 L344.75,258.34 L345,258.33 L345.25,258.32 L345.5,258.31 L345.75,258.3 L346,258.29 L346.25,258.27 L346.5,258.26 L346.75,258.25 L347,258.23 L347.25,258.22 L347.5,258.2 L347.75,258.19 L348,258.17 L348.25,258.16 L348.5,258.14 L348.75,258.13 L349,258.11 L349.25,258.1 L349.5,258.08 L349.75,258.06 L350,258.04 L350.25,258.02 L350.5,257.99 L350.75,257.97 L351,257.94 L351.25,257.91 L351.5,257.88 L351.75,257.85 L352,257.82 L352.25,257.78 L352.5,257.75 L352.75,257.72 L353,257.68 L353.25,257.65 L353.5,257.61 L353.75,257.58 L354,257.54 L354.25,257.51 L354.5,257.47 L354.75,257.43 L355,257.4 L355.25,257.37 L355.5,257.33 L355.75,257.29 L356,257.26 L356.25,257.22 L356.5,257.19 L356.75,257.15 L357,257.11 L357.25,257.07 L357.5,257.03 L357.75,256.99 L358,256.95 L358.25,256.91 L358.5,256.87 L358.75,256.83 L359,256.78 L359.25,256.74 L359.5,256.69 L359.75,256.65 L360,256.6 L360.25,256.55 L360.5,256.5 L360.75,256.45 L361,256.4 L361.25,256.35 L361.5,256.3 L361.75,256.25 L362,256.2 L362.25,256.14 L362.5,256.09 L362.75,256.03 L363,255.97 L363.25,255.91 L363.5,255.85 L363.75,255.79 L364,255.73 L364.25,255.67 L364.5,255.6 L364.75,255.54 L365,255.47 L365.25,255.41 L365.5,255.34 L365.75,255.27 L366,255.2 L366.25,255.13 L366.5,255.06 L366.75,254.99 L367,254.92 L367.25,254.85 L367.5,254.78 L367.75,254.71 L368,254.63 L368.25,254.56 L368.5,254.48 L368.75,254.39 L369,254.3 L369.25,254.21 L369.5,254.11 L369.75,254.01 L370,253.9 L370.25,253.78 L370.5,253.66 L370.75,253.53 L371,253.38 L371.25,253.21 L371.5,253.01 L371.75,252.79 L372,252.55 L372.25,252.29 L372.5,252.01 L372.75,251.72 L373,251.42 L373.25,251.1 L373.5,250.77 L373.75,250.43 L374,250.09 L374.25,249.75 L374.5,249.4 L374.75,249.05 L375,248.7 L375.25,248.34 L375.5,247.96 L375.75,247.57 L376,247.16 L376.25,246.72 L376.5,246.26 L376.75,245.76 L377,245.22 L377.25,244.65 L377.5,244.03 L377.75,243.35 L378,242.41 L378.25,241.2 L378.5,239.88 L378.75,238.6 L379,237.52 L379.25,236.78 L379.5,236.19 L379.75,235.68 L380,235.27 L380.25,235.03 L380.5,234.92 L380.75,234.85 L381,234.79 L381.25,234.75 L381.5,234.71 L381.75,234.66 L382,234.6 L382.25,234.52 L382.5,234.42 L382.75,234.31 L383,234.19 L383.25,234.08 L383.5,233.97 L383.75,233.89 L384,233.83 L384.25,233.8 L384.5,233.83 L384.75,233.94 L385,234.11 L385.25,234.34 L385.5,234.61 L385.75,234.91 L386,235.21 L386.25,235.51 L386.5,235.8 L386.75,236.05 L387,236.29 L387.25,236.53 L387.5,236.77 L387.75,237.02 L388,237.28 L388.25,237.56 L388.5,237.87 L388.75,238.2 L389,238.57 L389.25,238.99 L389.5,239.51 L389.75,240.16 L390,240.9 L390.25,241.7 L390.5,242.55 L390.75,243.41 L391,244.25 L391.25,245.06 L391.5,245.89 L391.75,246.78 L392,247.68 L392.25,248.57 L392.5,249.43 L392.75,250.23 L393,250.94 L393.25,251.56 L393.5,252.16 L393.75,252.72 L394,253.25 L394.25,253.74 L394.5,254.18 L394.75,254.57 L395,254.9 L395.25,255.19 L395.5,255.45 L395.75,255.7 L396,255.92 L396.25,256.13 L396.5,256.31 L396.75,256.47 L397,256.6 L397.25,256.72 L397.5,256.83 L397.75,256.94 L398,257.04 L398.25,257.13 L398.5,257.22 L398.75,257.3 L399,257.37 L399.25,257.44 L399.5,257.5 L399.75,257.55 L400,257.6 L400.25,257.64 L400.5,257.68 L400.75,257.72 L401,257.75 L401.25,257.79 L401.5,257.82 L401.75,257.85 L402,257.87 L402.25,257.9 L402.5,257.93 L402.75,257.95 L403,257.97 L403.25,257.99 L403.5,258.01 L403.75,258.03 L404,258.05 L404.25,258.07 L404.5,258.09 L404.75,258.11 L405,258.13 L405.25,258.15 L405.5,258.17 L405.75,258.18 L406,258.2 L406.25,258.22 L406.5,258.23 L406.75,258.25 L407,258.26 L407.25,258.28 L407.5,258.29 L407.75,258.31 L408,258.32 L408.25,258.33 L408.5,258.34 L408.75,258.36 L409,258.37 L409.25,258.38 L409.5,258.38 L409.75,258.39 L410,258.4 L410,258.4 Z" fill="#6BA543"/>
<path d="M403,286.1 L403,286.1 L403.25,286.1 L403.5,286.09 L403.75,286.07 L404,286.05 L404.25,286.03 L404.5,286 L404.75,285.97 L405,285.93 L405.25,285.88 L405.5,285.84 L405.75,285.79 L406,285.73 L406.25,285.68 L406.5,285.61 L406.75,285.55 L407,285.49 L407.25,285.42 L407.5,285.35 L407.75,285.27 L408,285.2 L408.25,285.11 L408.5,285 L408.75,284.87 L409,284.71 L409.25,284.55 L409.5,284.37 L409.75,284.18 L410,283.99 L410.25,283.79 L410.5,283.6 L410.75,283.4 L411,283.2 L411.25,282.99 L411.5,282.77 L411.75,282.54 L412,282.3 L412.25,282.05 L412.5,281.79 L412.75,281.51 L413,281.22 L413.25,280.91 L413.5,280.58 L413.75,280.22 L414,279.84 L414.25,279.44 L414.5,279.02 L414.75,278.58 L415,278.13 L415.25,277.66 L415.5,277.18 L415.75,276.7 L416,276.19 L416.25,275.65 L416.5,275.07 L416.75,274.47 L417,273.85 L417.25,273.22 L417.5,272.6 L417.75,271.98 L418,271.37 L418.25,270.78 L418.5,270.19 L418.75,269.58 L419,268.96 L419.25,268.34 L419.5,267.74 L419.75,267.15 L420,266.59 L420.25,266.07 L420.5,265.59 L420.75,265.18 L421,264.8 L421.25,264.41 L421.5,264.02 L421.75,263.65 L422,263.3 L422.25,262.99 L422.5,262.72 L422.75,262.51 L423,262.36 L423.25,262.3 L423.5,262.33 L423.75,262.44 L424,262.63 L424.25,262.87 L424.5,263.17 L424.75,263.51 L425,263.87 L425.25,264.26 L425.5,264.64 L425.75,265.03 L426,265.41 L426.25,265.85 L426.5,266.34 L426.75,266.86 L427,267.42 L427.25,268.01 L427.5,268.62 L427.75,269.24 L428,269.88 L428.25,270.52 L428.5,271.16 L428.75,271.84 L429,272.57 L429.25,273.32 L429.5,274.1 L429.75,274.87 L430,275.64 L430.25,276.38 L430.5,277.1 L430.75,277.82 L431,278.56 L431.25,279.32 L431.5,280.04 L431.75,280.73 L432,281.34 L432.25,281.85 L432.5,282.25 L432.75,282.6 L433,282.92 L433.25,283.22 L433.5,283.48 L433.75,283.72 L434,283.94 L434.25,284.13 L434.5,284.3 L434.75,284.45 L435,284.59 L435.25,284.71 L435.5,284.82 L435.75,284.93 L436,285.02 L436.25,285.11 L436.5,285.2 L436.75,285.28 L437,285.36 L437.25,285.44 L437.5,285.52 L437.75,285.6 L438,285.67 L438.25,285.74 L438.5,285.8 L438.75,285.86 L439,285.92 L439.25,285.97 L439.5,286.02 L439.75,286.06 L440,286.1 L440,286.1 Z" fill="#512762"/>
<rect x="82.5" y="176.9" width="125.6" height="109.2" fill="none" stroke="#231F20" stroke-width="1.25"/>
<rect x="211.25" y="176.9" width="125.85" height="109.2" fill="none" stroke="#231F20" stroke-width="1.25"/>
<rect x="339.6" y="176.9" width="125.7" height="109.2" fill="none" stroke="#231F20" stroke-width="1.25"/>
<text x="48.6" y="201.1" font-size="8.1" textLength="30.8" lengthAdjust="spacingAndGlyphs" fill="#231F20" >32Dp210</text>
<text x="36.7" y="228.2" font-size="8.1" textLength="42.7" lengthAdjust="spacingAndGlyphs" fill="#231F20" >-IL15-IL15R&#945;</text>
<text x="58.1" y="256.1" font-size="8.1" textLength="21.3" lengthAdjust="spacingAndGlyphs" fill="#231F20" >-CD80</text>
<text x="15.6" y="283.3" font-size="8.1" textLength="63.8" lengthAdjust="spacingAndGlyphs" fill="#231F20" >-IL15-IL15R&#945;-CD80</text>
<text x="81" y="299.5" font-size="6.5" textLength="3.8" lengthAdjust="spacingAndGlyphs" fill="#231F20" >0</text>
<text x="103.6" y="299.5" font-size="6.8" textLength="7.9" lengthAdjust="spacingAndGlyphs" fill="#231F20" >10</text>
<text x="112.2" y="296.7" font-size="5.3" textLength="2.3" lengthAdjust="spacingAndGlyphs" fill="#231F20" >2</text>
<text x="133.9" y="299.5" font-size="6.8" textLength="7.9" lengthAdjust="spacingAndGlyphs" fill="#231F20" >10</text>
<text x="142.5" y="296.7" font-size="5.3" textLength="2.3" lengthAdjust="spacingAndGlyphs" fill="#231F20" >3</text>
<text x="163.1" y="299.5" font-size="6.8" textLength="7.9" lengthAdjust="spacingAndGlyphs" fill="#231F20" >10</text>
<text x="171.7" y="296.7" font-size="5.3" textLength="2.3" lengthAdjust="spacingAndGlyphs" fill="#231F20" >4</text>
<text x="191.2" y="299.5" font-size="6.8" textLength="7.9" lengthAdjust="spacingAndGlyphs" fill="#231F20" >10</text>
<text x="199.8" y="296.7" font-size="5.3" textLength="2.3" lengthAdjust="spacingAndGlyphs" fill="#231F20" >5</text>
<line x1="108.2" y1="286.1" x2="108.2" y2="289.1" stroke="#000" stroke-width="0.8"/>
<line x1="138.5" y1="286.1" x2="138.5" y2="289.1" stroke="#000" stroke-width="0.8"/>
<line x1="167.7" y1="286.1" x2="167.7" y2="289.1" stroke="#000" stroke-width="0.8"/>
<line x1="195.9" y1="286.1" x2="195.9" y2="289.1" stroke="#000" stroke-width="0.8"/>
<line x1="117.32" y1="286.1" x2="117.32" y2="288.3" stroke="#000" stroke-width="0.6"/>
<line x1="122.66" y1="286.1" x2="122.66" y2="288.3" stroke="#000" stroke-width="0.6"/>
<line x1="126.44" y1="286.1" x2="126.44" y2="288.3" stroke="#000" stroke-width="0.6"/>
<line x1="129.38" y1="286.1" x2="129.38" y2="288.3" stroke="#000" stroke-width="0.6"/>
<line x1="131.78" y1="286.1" x2="131.78" y2="288.3" stroke="#000" stroke-width="0.6"/>
<line x1="133.81" y1="286.1" x2="133.81" y2="288.3" stroke="#000" stroke-width="0.6"/>
<line x1="135.56" y1="286.1" x2="135.56" y2="288.3" stroke="#000" stroke-width="0.6"/>
<line x1="137.11" y1="286.1" x2="137.11" y2="288.3" stroke="#000" stroke-width="0.6"/>
<line x1="147.29" y1="286.1" x2="147.29" y2="288.3" stroke="#000" stroke-width="0.6"/>
<line x1="152.43" y1="286.1" x2="152.43" y2="288.3" stroke="#000" stroke-width="0.6"/>
<line x1="156.08" y1="286.1" x2="156.08" y2="288.3" stroke="#000" stroke-width="0.6"/>
<line x1="158.91" y1="286.1" x2="158.91" y2="288.3" stroke="#000" stroke-width="0.6"/>
<line x1="161.22" y1="286.1" x2="161.22" y2="288.3" stroke="#000" stroke-width="0.6"/>
<line x1="163.18" y1="286.1" x2="163.18" y2="288.3" stroke="#000" stroke-width="0.6"/>
<line x1="164.87" y1="286.1" x2="164.87" y2="288.3" stroke="#000" stroke-width="0.6"/>
<line x1="166.36" y1="286.1" x2="166.36" y2="288.3" stroke="#000" stroke-width="0.6"/>
<line x1="176.19" y1="286.1" x2="176.19" y2="288.3" stroke="#000" stroke-width="0.6"/>
<line x1="181.15" y1="286.1" x2="181.15" y2="288.3" stroke="#000" stroke-width="0.6"/>
<line x1="184.68" y1="286.1" x2="184.68" y2="288.3" stroke="#000" stroke-width="0.6"/>
<line x1="187.41" y1="286.1" x2="187.41" y2="288.3" stroke="#000" stroke-width="0.6"/>
<line x1="189.64" y1="286.1" x2="189.64" y2="288.3" stroke="#000" stroke-width="0.6"/>
<line x1="191.53" y1="286.1" x2="191.53" y2="288.3" stroke="#000" stroke-width="0.6"/>
<line x1="193.17" y1="286.1" x2="193.17" y2="288.3" stroke="#000" stroke-width="0.6"/>
<line x1="194.61" y1="286.1" x2="194.61" y2="288.3" stroke="#000" stroke-width="0.6"/>
<line x1="86.78" y1="286.1" x2="86.78" y2="288.3" stroke="#000" stroke-width="0.6"/>
<line x1="91.07" y1="286.1" x2="91.07" y2="288.3" stroke="#000" stroke-width="0.6"/>
<line x1="95.35" y1="286.1" x2="95.35" y2="288.3" stroke="#000" stroke-width="0.6"/>
<line x1="99.63" y1="286.1" x2="99.63" y2="288.3" stroke="#000" stroke-width="0.6"/>
<line x1="103.92" y1="286.1" x2="103.92" y2="288.3" stroke="#000" stroke-width="0.6"/>
<line x1="82.5" y1="286.1" x2="82.5" y2="289.3" stroke="#231F20" stroke-width="0.8"/>
<text x="209.75" y="299.5" font-size="6.5" textLength="3.8" lengthAdjust="spacingAndGlyphs" fill="#231F20" >0</text>
<text x="232.35" y="299.5" font-size="6.8" textLength="7.9" lengthAdjust="spacingAndGlyphs" fill="#231F20" >10</text>
<text x="240.95" y="296.7" font-size="5.3" textLength="2.3" lengthAdjust="spacingAndGlyphs" fill="#231F20" >2</text>
<text x="262.65" y="299.5" font-size="6.8" textLength="7.9" lengthAdjust="spacingAndGlyphs" fill="#231F20" >10</text>
<text x="271.25" y="296.7" font-size="5.3" textLength="2.3" lengthAdjust="spacingAndGlyphs" fill="#231F20" >3</text>
<text x="291.85" y="299.5" font-size="6.8" textLength="7.9" lengthAdjust="spacingAndGlyphs" fill="#231F20" >10</text>
<text x="300.45" y="296.7" font-size="5.3" textLength="2.3" lengthAdjust="spacingAndGlyphs" fill="#231F20" >4</text>
<text x="319.95" y="299.5" font-size="6.8" textLength="7.9" lengthAdjust="spacingAndGlyphs" fill="#231F20" >10</text>
<text x="328.55" y="296.7" font-size="5.3" textLength="2.3" lengthAdjust="spacingAndGlyphs" fill="#231F20" >5</text>
<line x1="236.95" y1="286.1" x2="236.95" y2="289.1" stroke="#000" stroke-width="0.8"/>
<line x1="267.25" y1="286.1" x2="267.25" y2="289.1" stroke="#000" stroke-width="0.8"/>
<line x1="296.45" y1="286.1" x2="296.45" y2="289.1" stroke="#000" stroke-width="0.8"/>
<line x1="324.65" y1="286.1" x2="324.65" y2="289.1" stroke="#000" stroke-width="0.8"/>
<line x1="246.07" y1="286.1" x2="246.07" y2="288.3" stroke="#000" stroke-width="0.6"/>
<line x1="251.41" y1="286.1" x2="251.41" y2="288.3" stroke="#000" stroke-width="0.6"/>
<line x1="255.19" y1="286.1" x2="255.19" y2="288.3" stroke="#000" stroke-width="0.6"/>
<line x1="258.13" y1="286.1" x2="258.13" y2="288.3" stroke="#000" stroke-width="0.6"/>
<line x1="260.53" y1="286.1" x2="260.53" y2="288.3" stroke="#000" stroke-width="0.6"/>
<line x1="262.56" y1="286.1" x2="262.56" y2="288.3" stroke="#000" stroke-width="0.6"/>
<line x1="264.31" y1="286.1" x2="264.31" y2="288.3" stroke="#000" stroke-width="0.6"/>
<line x1="265.86" y1="286.1" x2="265.86" y2="288.3" stroke="#000" stroke-width="0.6"/>
<line x1="276.04" y1="286.1" x2="276.04" y2="288.3" stroke="#000" stroke-width="0.6"/>
<line x1="281.18" y1="286.1" x2="281.18" y2="288.3" stroke="#000" stroke-width="0.6"/>
<line x1="284.83" y1="286.1" x2="284.83" y2="288.3" stroke="#000" stroke-width="0.6"/>
<line x1="287.66" y1="286.1" x2="287.66" y2="288.3" stroke="#000" stroke-width="0.6"/>
<line x1="289.97" y1="286.1" x2="289.97" y2="288.3" stroke="#000" stroke-width="0.6"/>
<line x1="291.93" y1="286.1" x2="291.93" y2="288.3" stroke="#000" stroke-width="0.6"/>
<line x1="293.62" y1="286.1" x2="293.62" y2="288.3" stroke="#000" stroke-width="0.6"/>
<line x1="295.11" y1="286.1" x2="295.11" y2="288.3" stroke="#000" stroke-width="0.6"/>
<line x1="304.94" y1="286.1" x2="304.94" y2="288.3" stroke="#000" stroke-width="0.6"/>
<line x1="309.9" y1="286.1" x2="309.9" y2="288.3" stroke="#000" stroke-width="0.6"/>
<line x1="313.43" y1="286.1" x2="313.43" y2="288.3" stroke="#000" stroke-width="0.6"/>
<line x1="316.16" y1="286.1" x2="316.16" y2="288.3" stroke="#000" stroke-width="0.6"/>
<line x1="318.39" y1="286.1" x2="318.39" y2="288.3" stroke="#000" stroke-width="0.6"/>
<line x1="320.28" y1="286.1" x2="320.28" y2="288.3" stroke="#000" stroke-width="0.6"/>
<line x1="321.92" y1="286.1" x2="321.92" y2="288.3" stroke="#000" stroke-width="0.6"/>
<line x1="323.36" y1="286.1" x2="323.36" y2="288.3" stroke="#000" stroke-width="0.6"/>
<line x1="215.53" y1="286.1" x2="215.53" y2="288.3" stroke="#000" stroke-width="0.6"/>
<line x1="219.82" y1="286.1" x2="219.82" y2="288.3" stroke="#000" stroke-width="0.6"/>
<line x1="224.1" y1="286.1" x2="224.1" y2="288.3" stroke="#000" stroke-width="0.6"/>
<line x1="228.38" y1="286.1" x2="228.38" y2="288.3" stroke="#000" stroke-width="0.6"/>
<line x1="232.67" y1="286.1" x2="232.67" y2="288.3" stroke="#000" stroke-width="0.6"/>
<line x1="211.25" y1="286.1" x2="211.25" y2="289.3" stroke="#231F20" stroke-width="0.8"/>
<text x="338.1" y="299.5" font-size="6.5" textLength="3.8" lengthAdjust="spacingAndGlyphs" fill="#231F20" >0</text>
<text x="360.7" y="299.5" font-size="6.8" textLength="7.9" lengthAdjust="spacingAndGlyphs" fill="#231F20" >10</text>
<text x="369.3" y="296.7" font-size="5.3" textLength="2.3" lengthAdjust="spacingAndGlyphs" fill="#231F20" >2</text>
<text x="391" y="299.5" font-size="6.8" textLength="7.9" lengthAdjust="spacingAndGlyphs" fill="#231F20" >10</text>
<text x="399.6" y="296.7" font-size="5.3" textLength="2.3" lengthAdjust="spacingAndGlyphs" fill="#231F20" >3</text>
<text x="420.2" y="299.5" font-size="6.8" textLength="7.9" lengthAdjust="spacingAndGlyphs" fill="#231F20" >10</text>
<text x="428.8" y="296.7" font-size="5.3" textLength="2.3" lengthAdjust="spacingAndGlyphs" fill="#231F20" >4</text>
<text x="448.3" y="299.5" font-size="6.8" textLength="7.9" lengthAdjust="spacingAndGlyphs" fill="#231F20" >10</text>
<text x="456.9" y="296.7" font-size="5.3" textLength="2.3" lengthAdjust="spacingAndGlyphs" fill="#231F20" >5</text>
<line x1="365.3" y1="286.1" x2="365.3" y2="289.1" stroke="#000" stroke-width="0.8"/>
<line x1="395.6" y1="286.1" x2="395.6" y2="289.1" stroke="#000" stroke-width="0.8"/>
<line x1="424.8" y1="286.1" x2="424.8" y2="289.1" stroke="#000" stroke-width="0.8"/>
<line x1="453" y1="286.1" x2="453" y2="289.1" stroke="#000" stroke-width="0.8"/>
<line x1="374.42" y1="286.1" x2="374.42" y2="288.3" stroke="#000" stroke-width="0.6"/>
<line x1="379.76" y1="286.1" x2="379.76" y2="288.3" stroke="#000" stroke-width="0.6"/>
<line x1="383.54" y1="286.1" x2="383.54" y2="288.3" stroke="#000" stroke-width="0.6"/>
<line x1="386.48" y1="286.1" x2="386.48" y2="288.3" stroke="#000" stroke-width="0.6"/>
<line x1="388.88" y1="286.1" x2="388.88" y2="288.3" stroke="#000" stroke-width="0.6"/>
<line x1="390.91" y1="286.1" x2="390.91" y2="288.3" stroke="#000" stroke-width="0.6"/>
<line x1="392.66" y1="286.1" x2="392.66" y2="288.3" stroke="#000" stroke-width="0.6"/>
<line x1="394.21" y1="286.1" x2="394.21" y2="288.3" stroke="#000" stroke-width="0.6"/>
<line x1="404.39" y1="286.1" x2="404.39" y2="288.3" stroke="#000" stroke-width="0.6"/>
<line x1="409.53" y1="286.1" x2="409.53" y2="288.3" stroke="#000" stroke-width="0.6"/>
<line x1="413.18" y1="286.1" x2="413.18" y2="288.3" stroke="#000" stroke-width="0.6"/>
<line x1="416.01" y1="286.1" x2="416.01" y2="288.3" stroke="#000" stroke-width="0.6"/>
<line x1="418.32" y1="286.1" x2="418.32" y2="288.3" stroke="#000" stroke-width="0.6"/>
<line x1="420.28" y1="286.1" x2="420.28" y2="288.3" stroke="#000" stroke-width="0.6"/>
<line x1="421.97" y1="286.1" x2="421.97" y2="288.3" stroke="#000" stroke-width="0.6"/>
<line x1="423.46" y1="286.1" x2="423.46" y2="288.3" stroke="#000" stroke-width="0.6"/>
<line x1="433.29" y1="286.1" x2="433.29" y2="288.3" stroke="#000" stroke-width="0.6"/>
<line x1="438.25" y1="286.1" x2="438.25" y2="288.3" stroke="#000" stroke-width="0.6"/>
<line x1="441.78" y1="286.1" x2="441.78" y2="288.3" stroke="#000" stroke-width="0.6"/>
<line x1="444.51" y1="286.1" x2="444.51" y2="288.3" stroke="#000" stroke-width="0.6"/>
<line x1="446.74" y1="286.1" x2="446.74" y2="288.3" stroke="#000" stroke-width="0.6"/>
<line x1="448.63" y1="286.1" x2="448.63" y2="288.3" stroke="#000" stroke-width="0.6"/>
<line x1="450.27" y1="286.1" x2="450.27" y2="288.3" stroke="#000" stroke-width="0.6"/>
<line x1="451.71" y1="286.1" x2="451.71" y2="288.3" stroke="#000" stroke-width="0.6"/>
<line x1="343.88" y1="286.1" x2="343.88" y2="288.3" stroke="#000" stroke-width="0.6"/>
<line x1="348.17" y1="286.1" x2="348.17" y2="288.3" stroke="#000" stroke-width="0.6"/>
<line x1="352.45" y1="286.1" x2="352.45" y2="288.3" stroke="#000" stroke-width="0.6"/>
<line x1="356.73" y1="286.1" x2="356.73" y2="288.3" stroke="#000" stroke-width="0.6"/>
<line x1="361.02" y1="286.1" x2="361.02" y2="288.3" stroke="#000" stroke-width="0.6"/>
<line x1="339.6" y1="286.1" x2="339.6" y2="289.3" stroke="#231F20" stroke-width="0.8"/>
<text x="6.6" y="314.9" font-size="11.5" textLength="8.5" lengthAdjust="spacingAndGlyphs" fill="#231F20" style="stroke-width:0.12px">D</text>
<text x="21.6" y="330.4" font-size="8.3" textLength="30.8" lengthAdjust="spacingAndGlyphs" fill="#231F20" >32Dp210</text>
<text x="79.3" y="329.7" font-size="9.3" textLength="51.7" lengthAdjust="spacingAndGlyphs" fill="#231F20" >-IL15-IL15R&#945;</text>
<text x="171.4" y="329.7" font-size="9.3" textLength="76.9" lengthAdjust="spacingAndGlyphs" fill="#231F20" >-IL15-IL15R&#945;-CD80</text>
<text x="301.5" y="329.7" font-size="9.3" textLength="25.7" lengthAdjust="spacingAndGlyphs" fill="#231F20" >-CD80</text>
<text x="381.4" y="329.7" font-size="9.3" textLength="76.9" lengthAdjust="spacingAndGlyphs" fill="#231F20" >-IL15-IL15R&#945;-CD80</text>
<line x1="55.6" y1="353.2" x2="154.2" y2="353.2" stroke="#A3002B" stroke-width="1.2" stroke-opacity="0.35"/>
<line x1="55.6" y1="369.46" x2="154.2" y2="369.46" stroke="#2D4A7A" stroke-width="1.2" stroke-opacity="0.5"/>
<line x1="55.6" y1="385.72" x2="154.2" y2="385.72" stroke="#6BA543" stroke-width="1.2" stroke-opacity="0.55"/>
<line x1="55.6" y1="401.98" x2="154.2" y2="401.98" stroke="#512762" stroke-width="1.2" stroke-opacity="0.42"/>
<line x1="55.6" y1="418.24" x2="154.2" y2="418.24" stroke="#DA8A17" stroke-width="1.2" stroke-opacity="0.65"/>
<line x1="160.1" y1="353.2" x2="258.8" y2="353.2" stroke="#A3002B" stroke-width="1.2" stroke-opacity="0.35"/>
<line x1="160.1" y1="369.46" x2="258.8" y2="369.46" stroke="#2D4A7A" stroke-width="1.2" stroke-opacity="0.5"/>
<line x1="160.1" y1="385.72" x2="258.8" y2="385.72" stroke="#6BA543" stroke-width="1.2" stroke-opacity="0.55"/>
<line x1="160.1" y1="401.98" x2="258.8" y2="401.98" stroke="#512762" stroke-width="1.2" stroke-opacity="0.42"/>
<line x1="160.1" y1="418.24" x2="258.8" y2="418.24" stroke="#DA8A17" stroke-width="1.2" stroke-opacity="0.42"/>
<line x1="264.6" y1="353.2" x2="364.3" y2="353.2" stroke="#A3002B" stroke-width="1.2" stroke-opacity="0.35"/>
<line x1="264.6" y1="369.46" x2="364.3" y2="369.46" stroke="#2D4A7A" stroke-width="1.2" stroke-opacity="0.5"/>
<line x1="264.6" y1="385.72" x2="364.3" y2="385.72" stroke="#6BA543" stroke-width="1.2" stroke-opacity="0.55"/>
<line x1="264.6" y1="401.98" x2="364.3" y2="401.98" stroke="#512762" stroke-width="1.2" stroke-opacity="0.42"/>
<line x1="264.6" y1="418.24" x2="364.3" y2="418.24" stroke="#DA8A17" stroke-width="1.2" stroke-opacity="0.42"/>
<line x1="369.8" y1="353.2" x2="468.4" y2="353.2" stroke="#A3002B" stroke-width="1.2" stroke-opacity="0.35"/>
<line x1="369.8" y1="369.46" x2="468.4" y2="369.46" stroke="#2D4A7A" stroke-width="1.2" stroke-opacity="0.5"/>
<line x1="369.8" y1="385.72" x2="468.4" y2="385.72" stroke="#6BA543" stroke-width="1.2" stroke-opacity="0.55"/>
<line x1="369.8" y1="401.98" x2="468.4" y2="401.98" stroke="#512762" stroke-width="1.2" stroke-opacity="0.42"/>
<line x1="369.8" y1="418.24" x2="468.4" y2="418.24" stroke="#DA8A17" stroke-width="1.2" stroke-opacity="0.42"/>
<path d="M56.1,353.2 L56.1,353.13 L56.35,353.12 L56.6,353.12 L56.85,353.11 L57.1,353.1 L57.35,353.1 L57.6,353.09 L57.85,353.08 L58.1,353.08 L58.35,353.07 L58.6,353.06 L58.85,353.05 L59.1,353.04 L59.35,353.03 L59.6,353.02 L59.85,353.01 L60.1,353 L60.35,352.99 L60.6,352.98 L60.85,352.97 L61.1,352.95 L61.35,352.94 L61.6,352.93 L61.85,352.92 L62.1,352.9 L62.35,352.89 L62.6,352.87 L62.85,352.86 L63.1,352.84 L63.35,352.83 L63.6,352.81 L63.85,352.8 L64.1,352.78 L64.35,352.77 L64.6,352.75 L64.85,352.73 L65.1,352.71 L65.35,352.7 L65.6,352.68 L65.85,352.66 L66.1,352.65 L66.35,352.63 L66.6,352.61 L66.85,352.59 L67.1,352.58 L67.35,352.56 L67.6,352.54 L67.85,352.53 L68.1,352.51 L68.35,352.49 L68.6,352.48 L68.85,352.46 L69.1,352.45 L69.35,352.43 L69.6,352.42 L69.85,352.4 L70.1,352.39 L70.35,352.37 L70.6,352.36 L70.85,352.34 L71.1,352.33 L71.35,352.32 L71.6,352.3 L71.85,352.29 L72.1,352.27 L72.35,352.26 L72.6,352.24 L72.85,352.23 L73.1,352.21 L73.35,352.2 L73.6,352.18 L73.85,352.16 L74.1,352.14 L74.35,352.12 L74.6,352.09 L74.85,352.07 L75.1,352.04 L75.35,352.01 L75.6,351.98 L75.85,351.95 L76.1,351.91 L76.35,351.87 L76.6,351.82 L76.85,351.77 L77.1,351.71 L77.35,351.65 L77.6,351.57 L77.85,351.5 L78.1,351.41 L78.35,351.31 L78.6,351.21 L78.85,351.1 L79.1,350.97 L79.35,350.84 L79.6,350.69 L79.85,350.53 L80.1,350.36 L80.35,350.18 L80.6,349.98 L80.85,349.77 L81.1,349.55 L81.35,349.31 L81.6,349.06 L81.85,348.79 L82.1,348.51 L82.35,348.22 L82.6,347.91 L82.85,347.59 L83.1,347.26 L83.35,346.91 L83.6,346.56 L83.85,346.19 L84.1,345.82 L84.35,345.44 L84.6,345.05 L84.85,344.65 L85.1,344.25 L85.35,343.85 L85.6,343.45 L85.85,343.05 L86.1,342.65 L86.35,342.25 L86.6,341.86 L86.85,341.48 L87.1,341.11 L87.35,340.75 L87.6,340.41 L87.85,340.08 L88.1,339.76 L88.35,339.47 L88.6,339.2 L88.85,338.94 L89.1,338.72 L89.35,338.52 L89.6,338.34 L89.85,338.19 L90.1,338.07 L90.35,337.98 L90.6,337.92 L90.85,337.89 L91.1,337.89 L91.35,337.94 L91.6,338.06 L91.85,338.23 L92.1,338.46 L92.35,338.74 L92.6,339.07 L92.85,339.45 L93.1,339.86 L93.35,340.32 L93.6,340.81 L93.85,341.33 L94.1,341.87 L94.35,342.42 L94.6,342.99 L94.85,343.57 L95.1,344.15 L95.35,344.73 L95.6,345.3 L95.85,345.86 L96.1,346.41 L96.35,346.94 L96.6,347.46 L96.85,347.95 L97.1,348.42 L97.35,348.86 L97.6,349.28 L97.85,349.67 L98.1,350.03 L98.35,350.37 L98.6,350.68 L98.85,350.97 L99.1,351.23 L99.35,351.47 L99.6,351.68 L99.85,351.88 L100.1,352.05 L100.35,352.2 L100.6,352.34 L100.85,352.46 L101.1,352.57 L101.35,352.66 L101.6,352.74 L101.85,352.81 L102.1,352.87 L102.35,352.93 L102.6,352.97 L102.85,353.01 L103.1,353.04 L103.35,353.07 L103.6,353.09 L103.85,353.11 L104.1,353.13 L104.35,353.14 L104.35,353.2 Z" fill="#A3002B"/>
<path d="M109.85,369.46 L109.85,369.4 L110.1,369.39 L110.35,369.38 L110.6,369.37 L110.85,369.36 L111.1,369.34 L111.35,369.32 L111.6,369.3 L111.85,369.27 L112.1,369.24 L112.35,369.21 L112.6,369.17 L112.85,369.13 L113.1,369.09 L113.35,369.04 L113.6,368.98 L113.85,368.92 L114.1,368.84 L114.35,368.77 L114.6,368.68 L114.85,368.58 L115.1,368.48 L115.35,368.36 L115.6,368.24 L115.85,368.1 L116.1,367.95 L116.35,367.79 L116.6,367.62 L116.85,367.43 L117.1,367.23 L117.35,367.02 L117.6,366.79 L117.85,366.54 L118.1,366.28 L118.35,366.01 L118.6,365.72 L118.85,365.41 L119.1,365.09 L119.35,364.76 L119.6,364.41 L119.85,364.05 L120.1,363.67 L120.35,363.29 L120.6,362.89 L120.85,362.49 L121.1,362.07 L121.35,361.65 L121.6,361.23 L121.85,360.8 L122.1,360.37 L122.35,359.94 L122.6,359.52 L122.85,359.1 L123.1,358.69 L123.35,358.28 L123.6,357.89 L123.85,357.51 L124.1,357.15 L124.35,356.81 L124.6,356.49 L124.85,356.19 L125.1,355.91 L125.35,355.66 L125.6,355.44 L125.85,355.25 L126.1,355.09 L126.35,354.96 L126.6,354.86 L126.85,354.79 L127.1,354.76 L127.35,354.77 L127.6,354.81 L127.85,354.88 L128.1,355 L128.35,355.14 L128.6,355.33 L128.85,355.54 L129.1,355.78 L129.35,356.06 L129.6,356.36 L129.85,356.69 L130.1,357.04 L130.35,357.41 L130.6,357.79 L130.85,358.2 L131.1,358.62 L131.35,359.04 L131.6,359.48 L131.85,359.92 L132.1,360.37 L132.35,360.81 L132.6,361.26 L132.85,361.7 L133.1,362.13 L133.35,362.56 L133.6,362.98 L133.85,363.39 L134.1,363.79 L134.35,364.17 L134.6,364.54 L134.85,364.9 L135.1,365.24 L135.35,365.57 L135.6,365.88 L135.85,366.17 L136.1,366.44 L136.35,366.71 L136.6,366.95 L136.85,367.18 L137.1,367.39 L137.35,367.59 L137.6,367.77 L137.85,367.94 L138.1,368.09 L138.35,368.24 L138.6,368.37 L138.85,368.49 L139.1,368.59 L139.35,368.69 L139.6,368.78 L139.85,368.86 L140.1,368.93 L140.35,369 L140.6,369.05 L140.85,369.11 L141.1,369.15 L141.35,369.19 L141.6,369.23 L141.85,369.26 L142.1,369.29 L142.35,369.31 L142.6,369.33 L142.85,369.35 L143.1,369.37 L143.35,369.38 L143.6,369.39 L143.85,369.4 L143.85,369.46 Z" fill="#2D4A7A"/>
<path d="M123.1,385.72 L123.1,385.67 L123.35,385.66 L123.6,385.65 L123.85,385.63 L124.1,385.61 L124.35,385.59 L124.6,385.57 L124.85,385.54 L125.1,385.51 L125.35,385.47 L125.6,385.43 L125.85,385.38 L126.1,385.33 L126.35,385.27 L126.6,385.2 L126.85,385.12 L127.1,385.03 L127.35,384.93 L127.6,384.82 L127.85,384.69 L128.1,384.55 L128.35,384.4 L128.6,384.24 L128.85,384.05 L129.1,383.85 L129.35,383.64 L129.6,383.41 L129.85,383.15 L130.1,382.89 L130.35,382.6 L130.6,382.29 L130.85,381.97 L131.1,381.63 L131.35,381.27 L131.6,380.9 L131.85,380.51 L132.1,380.11 L132.35,379.7 L132.6,379.28 L132.85,378.86 L133.1,378.42 L133.35,377.99 L133.6,377.56 L133.85,377.13 L134.1,376.7 L134.35,376.29 L134.6,375.89 L134.85,375.5 L135.1,375.14 L135.35,374.79 L135.6,374.48 L135.85,374.19 L136.1,373.93 L136.35,373.7 L136.6,373.51 L136.85,373.35 L137.1,373.24 L137.35,373.16 L137.6,373.12 L137.85,373.13 L138.1,373.21 L138.35,373.35 L138.6,373.55 L138.85,373.82 L139.1,374.14 L139.35,374.52 L139.6,374.94 L139.85,375.4 L140.1,375.9 L140.35,376.42 L140.6,376.96 L140.85,377.52 L141.1,378.08 L141.35,378.64 L141.6,379.19 L141.85,379.74 L142.1,380.27 L142.35,380.77 L142.6,381.26 L142.85,381.72 L143.1,382.15 L143.35,382.55 L143.6,382.92 L143.85,383.27 L144.1,383.58 L144.35,383.86 L144.6,384.11 L144.85,384.34 L145.1,384.54 L145.35,384.72 L145.6,384.87 L145.85,385.01 L146.1,385.12 L146.35,385.22 L146.6,385.31 L146.85,385.38 L147.1,385.44 L147.35,385.5 L147.6,385.54 L147.85,385.57 L148.1,385.6 L148.35,385.63 L148.6,385.65 L148.85,385.66 L148.85,385.72 Z" fill="#6BA543"/>
<path d="M122.35,401.98 L122.35,401.92 L122.6,401.91 L122.85,401.89 L123.1,401.88 L123.35,401.86 L123.6,401.83 L123.85,401.81 L124.1,401.78 L124.35,401.74 L124.6,401.7 L124.85,401.65 L125.1,401.6 L125.35,401.53 L125.6,401.46 L125.85,401.39 L126.1,401.3 L126.35,401.2 L126.6,401.08 L126.85,400.96 L127.1,400.82 L127.35,400.67 L127.6,400.51 L127.85,400.33 L128.1,400.13 L128.35,399.92 L128.6,399.69 L128.85,399.44 L129.1,399.17 L129.35,398.89 L129.6,398.59 L129.85,398.28 L130.1,397.95 L130.35,397.6 L130.6,397.24 L130.85,396.87 L131.1,396.49 L131.35,396.1 L131.6,395.71 L131.85,395.31 L132.1,394.9 L132.35,394.5 L132.6,394.11 L132.85,393.72 L133.1,393.34 L133.35,392.97 L133.6,392.62 L133.85,392.29 L134.1,391.98 L134.35,391.69 L134.6,391.44 L134.85,391.21 L135.1,391.02 L135.35,390.85 L135.6,390.73 L135.85,390.64 L136.1,390.59 L136.35,390.58 L136.6,390.62 L136.85,390.71 L137.1,390.84 L137.35,391.03 L137.6,391.26 L137.85,391.54 L138.1,391.85 L138.35,392.2 L138.6,392.58 L138.85,392.99 L139.1,393.42 L139.35,393.86 L139.6,394.32 L139.85,394.79 L140.1,395.25 L140.35,395.72 L140.6,396.18 L140.85,396.63 L141.1,397.07 L141.35,397.49 L141.6,397.89 L141.85,398.28 L142.1,398.64 L142.35,398.99 L142.6,399.3 L142.85,399.6 L143.1,399.87 L143.35,400.12 L143.6,400.35 L143.85,400.56 L144.1,400.74 L144.35,400.91 L144.6,401.06 L144.85,401.19 L145.1,401.31 L145.35,401.41 L145.6,401.5 L145.85,401.57 L146.1,401.64 L146.35,401.7 L146.6,401.74 L146.85,401.78 L147.1,401.82 L147.35,401.85 L147.6,401.87 L147.85,401.89 L148.1,401.91 L148.35,401.92 L148.35,401.98 Z" fill="#512762"/>
<path d="M122.6,418.24 L122.6,418.18 L122.85,418.17 L123.1,418.16 L123.35,418.14 L123.6,418.12 L123.85,418.1 L124.1,418.08 L124.35,418.05 L124.6,418.01 L124.85,417.98 L125.1,417.93 L125.35,417.89 L125.6,417.83 L125.85,417.77 L126.1,417.7 L126.35,417.62 L126.6,417.54 L126.85,417.44 L127.1,417.34 L127.35,417.22 L127.6,417.09 L127.85,416.95 L128.1,416.8 L128.35,416.64 L128.6,416.46 L128.85,416.27 L129.1,416.06 L129.35,415.85 L129.6,415.62 L129.85,415.37 L130.1,415.12 L130.35,414.85 L130.6,414.57 L130.85,414.28 L131.1,413.98 L131.35,413.68 L131.6,413.36 L131.85,413.05 L132.1,412.73 L132.35,412.41 L132.6,412.09 L132.85,411.77 L133.1,411.46 L133.35,411.16 L133.6,410.87 L133.85,410.59 L134.1,410.33 L134.35,410.08 L134.6,409.85 L134.85,409.65 L135.1,409.47 L135.35,409.31 L135.6,409.18 L135.85,409.07 L136.1,409 L136.35,408.95 L136.6,408.94 L136.85,408.96 L137.1,409.02 L137.35,409.12 L137.6,409.26 L137.85,409.43 L138.1,409.64 L138.35,409.88 L138.6,410.14 L138.85,410.44 L139.1,410.75 L139.35,411.08 L139.6,411.43 L139.85,411.79 L140.1,412.15 L140.35,412.53 L140.6,412.9 L140.85,413.26 L141.1,413.63 L141.35,413.98 L141.6,414.33 L141.85,414.66 L142.1,414.98 L142.35,415.28 L142.6,415.57 L142.85,415.84 L143.1,416.09 L143.35,416.32 L143.6,416.54 L143.85,416.73 L144.1,416.91 L144.35,417.08 L144.6,417.23 L144.85,417.36 L145.1,417.48 L145.35,417.58 L145.6,417.68 L145.85,417.76 L146.1,417.83 L146.35,417.89 L146.6,417.95 L146.85,418 L147.1,418.04 L147.35,418.07 L147.6,418.1 L147.85,418.12 L148.1,418.14 L148.35,418.16 L148.6,418.18 L148.85,418.19 L148.85,418.24 Z" fill="#DA8A17"/>
<path d="M122.35,434.5 L122.35,434.44 L122.6,434.43 L122.85,434.42 L123.1,434.4 L123.35,434.38 L123.6,434.36 L123.85,434.34 L124.1,434.31 L124.35,434.28 L124.6,434.24 L124.85,434.2 L125.1,434.15 L125.35,434.1 L125.6,434.03 L125.85,433.97 L126.1,433.89 L126.35,433.8 L126.6,433.71 L126.85,433.6 L127.1,433.49 L127.35,433.36 L127.6,433.23 L127.85,433.08 L128.1,432.92 L128.35,432.74 L128.6,432.56 L128.85,432.36 L129.1,432.15 L129.35,431.93 L129.6,431.7 L129.85,431.45 L130.1,431.2 L130.35,430.93 L130.6,430.66 L130.85,430.39 L131.1,430.1 L131.35,429.82 L131.6,429.53 L131.85,429.24 L132.1,428.95 L132.35,428.67 L132.6,428.39 L132.85,428.12 L133.1,427.87 L133.35,427.62 L133.6,427.39 L133.85,427.18 L134.1,426.99 L134.35,426.82 L134.6,426.67 L134.85,426.54 L135.1,426.44 L135.35,426.37 L135.6,426.32 L135.85,426.3 L136.1,426.31 L136.35,426.35 L136.6,426.42 L136.85,426.53 L137.1,426.66 L137.35,426.82 L137.6,427.01 L137.85,427.22 L138.1,427.45 L138.35,427.7 L138.6,427.97 L138.85,428.25 L139.1,428.55 L139.35,428.85 L139.6,429.15 L139.85,429.46 L140.1,429.77 L140.35,430.08 L140.6,430.39 L140.85,430.69 L141.1,430.98 L141.35,431.26 L141.6,431.53 L141.85,431.79 L142.1,432.03 L142.35,432.27 L142.6,432.48 L142.85,432.69 L143.1,432.88 L143.35,433.05 L143.6,433.21 L143.85,433.36 L144.1,433.5 L144.35,433.62 L144.6,433.73 L144.85,433.83 L145.1,433.92 L145.35,434 L145.6,434.07 L145.85,434.13 L146.1,434.18 L146.35,434.23 L146.6,434.27 L146.85,434.31 L147.1,434.34 L147.35,434.36 L147.6,434.39 L147.85,434.41 L148.1,434.42 L148.35,434.44 L148.6,434.45 L148.6,434.5 Z" fill="#3A6852"/>
<path d="M174.1,353.2 L174.1,353.14 L174.35,353.14 L174.6,353.13 L174.85,353.12 L175.1,353.11 L175.35,353.1 L175.6,353.09 L175.85,353.08 L176.1,353.06 L176.35,353.05 L176.6,353.03 L176.85,353.01 L177.1,352.99 L177.35,352.97 L177.6,352.94 L177.85,352.92 L178.1,352.89 L178.35,352.85 L178.6,352.82 L178.85,352.78 L179.1,352.74 L179.35,352.7 L179.6,352.65 L179.85,352.6 L180.1,352.55 L180.35,352.49 L180.6,352.42 L180.85,352.36 L181.1,352.29 L181.35,352.21 L181.6,352.13 L181.85,352.04 L182.1,351.95 L182.35,351.86 L182.6,351.75 L182.85,351.65 L183.1,351.53 L183.35,351.41 L183.6,351.29 L183.85,351.16 L184.1,351.02 L184.35,350.88 L184.6,350.73 L184.85,350.58 L185.1,350.42 L185.35,350.25 L185.6,350.08 L185.85,349.9 L186.1,349.72 L186.35,349.54 L186.6,349.35 L186.85,349.15 L187.1,348.95 L187.35,348.75 L187.6,348.54 L187.85,348.33 L188.1,348.12 L188.35,347.91 L188.6,347.7 L188.85,347.48 L189.1,347.27 L189.35,347.05 L189.6,346.84 L189.85,346.63 L190.1,346.42 L190.35,346.21 L190.6,346.01 L190.85,345.81 L191.1,345.62 L191.35,345.43 L191.6,345.25 L191.85,345.08 L192.1,344.91 L192.35,344.75 L192.6,344.61 L192.85,344.47 L193.1,344.34 L193.35,344.22 L193.6,344.11 L193.85,344.02 L194.1,343.94 L194.35,343.86 L194.6,343.81 L194.85,343.76 L195.1,343.73 L195.35,343.71 L195.6,343.7 L195.85,343.71 L196.1,343.76 L196.35,343.83 L196.6,343.92 L196.85,344.04 L197.1,344.19 L197.35,344.36 L197.6,344.56 L197.85,344.77 L198.1,345 L198.35,345.25 L198.6,345.52 L198.85,345.8 L199.1,346.09 L199.35,346.39 L199.6,346.69 L199.85,347 L200.1,347.31 L200.35,347.63 L200.6,347.94 L200.85,348.25 L201.1,348.55 L201.35,348.85 L201.6,349.14 L201.85,349.43 L202.1,349.7 L202.35,349.96 L202.6,350.22 L202.85,350.46 L203.1,350.69 L203.35,350.9 L203.6,351.11 L203.85,351.3 L204.1,351.48 L204.35,351.64 L204.6,351.8 L204.85,351.94 L205.1,352.07 L205.35,352.19 L205.6,352.31 L205.85,352.41 L206.1,352.5 L206.35,352.58 L206.6,352.66 L206.85,352.72 L207.1,352.78 L207.35,352.84 L207.6,352.88 L207.85,352.93 L208.1,352.96 L208.35,353 L208.6,353.02 L208.85,353.05 L209.1,353.07 L209.35,353.09 L209.6,353.11 L209.85,353.12 L210.1,353.13 L210.35,353.14 L210.35,353.2 Z" fill="#A3002B"/>
<path d="M232.35,369.46 L232.35,369.41 L232.6,369.39 L232.85,369.36 L233.1,369.32 L233.35,369.27 L233.6,369.2 L233.85,369.12 L234.1,369.01 L234.35,368.88 L234.6,368.71 L234.85,368.51 L235.1,368.26 L235.35,367.95 L235.6,367.6 L235.85,367.18 L236.1,366.69 L236.35,366.14 L236.6,365.51 L236.85,364.81 L237.1,364.04 L237.35,363.21 L237.6,362.32 L237.85,361.38 L238.1,360.42 L238.35,359.44 L238.6,358.46 L238.85,357.51 L239.1,356.6 L239.35,355.77 L239.6,355.02 L239.85,354.39 L240.1,353.88 L240.35,353.52 L240.6,353.31 L240.85,353.26 L241.1,353.38 L241.35,353.65 L241.6,354.07 L241.85,354.63 L242.1,355.31 L242.35,356.09 L242.6,356.96 L242.85,357.89 L243.1,358.85 L243.35,359.83 L243.6,360.81 L243.85,361.76 L244.1,362.68 L244.35,363.55 L244.6,364.36 L244.85,365.1 L245.1,365.77 L245.35,366.37 L245.6,366.9 L245.85,367.35 L246.1,367.75 L246.35,368.08 L246.6,368.36 L246.85,368.59 L247.1,368.78 L247.35,368.94 L247.6,369.06 L247.85,369.16 L248.1,369.23 L248.35,369.29 L248.6,369.34 L248.85,369.37 L249.1,369.39 L249.1,369.46 Z" fill="#2D4A7A"/>
<path d="M235.85,385.72 L235.85,385.66 L236.1,385.65 L236.35,385.64 L236.6,385.62 L236.85,385.59 L237.1,385.57 L237.35,385.54 L237.6,385.5 L237.85,385.46 L238.1,385.41 L238.35,385.36 L238.6,385.29 L238.85,385.22 L239.1,385.14 L239.35,385.05 L239.6,384.95 L239.85,384.84 L240.1,384.71 L240.35,384.57 L240.6,384.43 L240.85,384.27 L241.1,384.09 L241.35,383.91 L241.6,383.71 L241.85,383.51 L242.1,383.29 L242.35,383.06 L242.6,382.83 L242.85,382.6 L243.1,382.36 L243.35,382.12 L243.6,381.88 L243.85,381.65 L244.1,381.42 L244.35,381.2 L244.6,380.99 L244.85,380.8 L245.1,380.62 L245.35,380.46 L245.6,380.33 L245.85,380.22 L246.1,380.13 L246.35,380.06 L246.6,380.03 L246.85,380.02 L247.1,380.06 L247.35,380.16 L247.6,380.3 L247.85,380.5 L248.1,380.74 L248.35,381.02 L248.6,381.32 L248.85,381.65 L249.1,381.99 L249.35,382.33 L249.6,382.68 L249.85,383.01 L250.1,383.33 L250.35,383.64 L250.6,383.92 L250.85,384.19 L251.1,384.42 L251.35,384.63 L251.6,384.82 L251.85,384.98 L252.1,385.12 L252.35,385.24 L252.6,385.33 L252.85,385.42 L253.1,385.48 L253.35,385.54 L253.6,385.58 L253.85,385.61 L254.1,385.64 L254.35,385.66 L254.35,385.72 Z" fill="#6BA543"/>
<path d="M235.6,401.98 L235.6,401.93 L235.85,401.92 L236.1,401.9 L236.35,401.88 L236.6,401.86 L236.85,401.84 L237.1,401.81 L237.35,401.77 L237.6,401.73 L237.85,401.68 L238.1,401.63 L238.35,401.56 L238.6,401.49 L238.85,401.4 L239.1,401.31 L239.35,401.2 L239.6,401.09 L239.85,400.96 L240.1,400.81 L240.35,400.66 L240.6,400.49 L240.85,400.3 L241.1,400.11 L241.35,399.9 L241.6,399.68 L241.85,399.45 L242.1,399.21 L242.35,398.96 L242.6,398.71 L242.85,398.45 L243.1,398.2 L243.35,397.94 L243.6,397.7 L243.85,397.46 L244.1,397.23 L244.35,397.01 L244.6,396.81 L244.85,396.63 L245.1,396.47 L245.35,396.34 L245.6,396.23 L245.85,396.15 L246.1,396.1 L246.35,396.08 L246.6,396.1 L246.85,396.18 L247.1,396.33 L247.35,396.52 L247.6,396.77 L247.85,397.06 L248.1,397.39 L248.35,397.74 L248.6,398.1 L248.85,398.48 L249.1,398.85 L249.35,399.21 L249.6,399.55 L249.85,399.88 L250.1,400.18 L250.35,400.46 L250.6,400.7 L250.85,400.92 L251.1,401.11 L251.35,401.28 L251.6,401.42 L251.85,401.53 L252.1,401.63 L252.35,401.71 L252.6,401.77 L252.85,401.82 L253.1,401.86 L253.35,401.89 L253.6,401.91 L253.6,401.98 Z" fill="#512762"/>
<path d="M235.85,418.24 L235.85,418.18 L236.1,418.16 L236.35,418.15 L236.6,418.12 L236.85,418.1 L237.1,418.07 L237.35,418.04 L237.6,417.99 L237.85,417.95 L238.1,417.89 L238.35,417.83 L238.6,417.76 L238.85,417.67 L239.1,417.58 L239.35,417.48 L239.6,417.36 L239.85,417.23 L240.1,417.09 L240.35,416.94 L240.6,416.77 L240.85,416.59 L241.1,416.4 L241.35,416.19 L241.6,415.98 L241.85,415.75 L242.1,415.51 L242.35,415.27 L242.6,415.02 L242.85,414.77 L243.1,414.52 L243.35,414.27 L243.6,414.03 L243.85,413.79 L244.1,413.57 L244.35,413.35 L244.6,413.16 L244.85,412.98 L245.1,412.83 L245.35,412.7 L245.6,412.59 L245.85,412.51 L246.1,412.46 L246.35,412.44 L246.6,412.46 L246.85,412.53 L247.1,412.65 L247.35,412.81 L247.6,413.03 L247.85,413.28 L248.1,413.56 L248.35,413.86 L248.6,414.19 L248.85,414.52 L249.1,414.86 L249.35,415.19 L249.6,415.52 L249.85,415.84 L250.1,416.13 L250.35,416.41 L250.6,416.67 L250.85,416.9 L251.1,417.11 L251.35,417.29 L251.6,417.46 L251.85,417.6 L252.1,417.72 L252.35,417.82 L252.6,417.9 L252.85,417.97 L253.1,418.03 L253.35,418.08 L253.6,418.11 L253.85,418.14 L254.1,418.17 L254.35,418.19 L254.35,418.24 Z" fill="#DA8A17"/>
<path d="M237.85,434.5 L237.85,434.44 L238.1,434.43 L238.35,434.4 L238.6,434.38 L238.85,434.35 L239.1,434.31 L239.35,434.27 L239.6,434.21 L239.85,434.15 L240.1,434.07 L240.35,433.99 L240.6,433.89 L240.85,433.78 L241.1,433.65 L241.35,433.51 L241.6,433.36 L241.85,433.19 L242.1,433 L242.35,432.8 L242.6,432.59 L242.85,432.37 L243.1,432.14 L243.35,431.91 L243.6,431.68 L243.85,431.44 L244.1,431.21 L244.35,430.99 L244.6,430.79 L244.85,430.6 L245.1,430.43 L245.35,430.29 L245.6,430.17 L245.85,430.08 L246.1,430.02 L246.35,430 L246.6,430.01 L246.85,430.07 L247.1,430.17 L247.35,430.31 L247.6,430.49 L247.85,430.7 L248.1,430.93 L248.35,431.18 L248.6,431.44 L248.85,431.72 L249.1,431.99 L249.35,432.26 L249.6,432.52 L249.85,432.76 L250.1,432.99 L250.35,433.21 L250.6,433.4 L250.85,433.58 L251.1,433.73 L251.35,433.87 L251.6,433.98 L251.85,434.08 L252.1,434.17 L252.35,434.24 L252.6,434.29 L252.85,434.34 L253.1,434.38 L253.35,434.41 L253.6,434.43 L253.85,434.45 L253.85,434.5 Z" fill="#3A6852"/>
<path d="M269.6,353.2 L269.6,353.15 L269.85,353.14 L270.1,353.13 L270.35,353.12 L270.6,353.11 L270.85,353.1 L271.1,353.09 L271.35,353.07 L271.6,353.06 L271.85,353.04 L272.1,353.03 L272.35,353.01 L272.6,352.98 L272.85,352.96 L273.1,352.94 L273.35,352.91 L273.6,352.88 L273.85,352.85 L274.1,352.81 L274.35,352.77 L274.6,352.73 L274.85,352.69 L275.1,352.64 L275.35,352.6 L275.6,352.54 L275.85,352.49 L276.1,352.43 L276.35,352.36 L276.6,352.3 L276.85,352.23 L277.1,352.15 L277.35,352.08 L277.6,352 L277.85,351.91 L278.1,351.82 L278.35,351.73 L278.6,351.64 L278.85,351.54 L279.1,351.44 L279.35,351.33 L279.6,351.22 L279.85,351.12 L280.1,351 L280.35,350.89 L280.6,350.77 L280.85,350.66 L281.1,350.54 L281.35,350.42 L281.6,350.3 L281.85,350.18 L282.1,350.07 L282.35,349.95 L282.6,349.83 L282.85,349.72 L283.1,349.61 L283.35,349.5 L283.6,349.4 L283.85,349.29 L284.1,349.2 L284.35,349.11 L284.6,349.02 L284.85,348.94 L285.1,348.86 L285.35,348.79 L285.6,348.73 L285.85,348.67 L286.1,348.63 L286.35,348.59 L286.6,348.55 L286.85,348.53 L287.1,348.51 L287.35,348.5 L287.6,348.5 L287.85,348.52 L288.1,348.56 L288.35,348.61 L288.6,348.68 L288.85,348.77 L289.1,348.88 L289.35,349 L289.6,349.13 L289.85,349.28 L290.1,349.44 L290.35,349.6 L290.6,349.77 L290.85,349.95 L291.1,350.13 L291.35,350.31 L291.6,350.5 L291.85,350.68 L292.1,350.86 L292.35,351.03 L292.6,351.2 L292.85,351.37 L293.1,351.52 L293.35,351.67 L293.6,351.82 L293.85,351.95 L294.1,352.08 L294.35,352.19 L294.6,352.3 L294.85,352.4 L295.1,352.5 L295.35,352.58 L295.6,352.66 L295.85,352.72 L296.1,352.79 L296.35,352.84 L296.6,352.89 L296.85,352.93 L297.1,352.97 L297.35,353.01 L297.6,353.04 L297.85,353.06 L298.1,353.08 L298.35,353.1 L298.6,353.12 L298.85,353.13 L299.1,353.14 L299.1,353.2 Z" fill="#A3002B"/>
<path d="M332.1,369.46 L332.1,369.4 L332.35,369.38 L332.6,369.35 L332.85,369.31 L333.1,369.26 L333.35,369.2 L333.6,369.11 L333.85,369 L334.1,368.86 L334.35,368.69 L334.6,368.48 L334.85,368.23 L335.1,367.93 L335.35,367.57 L335.6,367.15 L335.85,366.66 L336.1,366.1 L336.35,365.48 L336.6,364.78 L336.85,364.02 L337.1,363.19 L337.35,362.32 L337.6,361.4 L337.85,360.45 L338.1,359.49 L338.35,358.54 L338.6,357.62 L338.85,356.75 L339.1,355.95 L339.35,355.25 L339.6,354.65 L339.85,354.19 L340.1,353.86 L340.35,353.69 L340.6,353.67 L340.85,353.79 L341.1,354.05 L341.35,354.42 L341.6,354.92 L341.85,355.52 L342.1,356.2 L342.35,356.97 L342.6,357.78 L342.85,358.64 L343.1,359.52 L343.35,360.41 L343.6,361.29 L343.85,362.14 L344.1,362.96 L344.35,363.74 L344.6,364.47 L344.85,365.14 L345.1,365.76 L345.35,366.31 L345.6,366.81 L345.85,367.24 L346.1,367.62 L346.35,367.95 L346.6,368.23 L346.85,368.47 L347.1,368.66 L347.35,368.83 L347.6,368.96 L347.85,369.07 L348.1,369.16 L348.35,369.23 L348.6,369.28 L348.85,369.33 L349.1,369.36 L349.35,369.39 L349.6,369.41 L349.6,369.46 Z" fill="#2D4A7A"/>
<path d="M332.6,385.72 L332.6,385.66 L332.85,385.65 L333.1,385.63 L333.35,385.61 L333.6,385.59 L333.85,385.56 L334.1,385.52 L334.35,385.48 L334.6,385.43 L334.85,385.38 L335.1,385.31 L335.35,385.23 L335.6,385.15 L335.85,385.05 L336.1,384.93 L336.35,384.8 L336.6,384.66 L336.85,384.5 L337.1,384.32 L337.35,384.13 L337.6,383.92 L337.85,383.69 L338.1,383.45 L338.35,383.19 L338.6,382.91 L338.85,382.62 L339.1,382.32 L339.35,382 L339.6,381.69 L339.85,381.36 L340.1,381.04 L340.35,380.71 L340.6,380.4 L340.85,380.09 L341.1,379.79 L341.35,379.52 L341.6,379.26 L341.85,379.03 L342.1,378.83 L342.35,378.65 L342.6,378.52 L342.85,378.41 L343.1,378.35 L343.35,378.32 L343.6,378.33 L343.85,378.38 L344.1,378.48 L344.35,378.6 L344.6,378.77 L344.85,378.96 L345.1,379.19 L345.35,379.44 L345.6,379.72 L345.85,380.01 L346.1,380.32 L346.35,380.64 L346.6,380.97 L346.85,381.3 L347.1,381.63 L347.35,381.95 L347.6,382.27 L347.85,382.58 L348.1,382.87 L348.35,383.16 L348.6,383.42 L348.85,383.67 L349.1,383.9 L349.35,384.12 L349.6,384.32 L349.85,384.5 L350.1,384.66 L350.35,384.8 L350.6,384.93 L350.85,385.05 L351.1,385.15 L351.35,385.24 L351.6,385.32 L351.85,385.38 L352.1,385.44 L352.35,385.49 L352.6,385.53 L352.85,385.56 L353.1,385.59 L353.35,385.62 L353.6,385.64 L353.85,385.65 L354.1,385.67 L354.1,385.72 Z" fill="#6BA543"/>
<path d="M331.85,401.98 L331.85,401.92 L332.1,401.91 L332.35,401.89 L332.6,401.87 L332.85,401.85 L333.1,401.82 L333.35,401.79 L333.6,401.75 L333.85,401.7 L334.1,401.65 L334.35,401.6 L334.6,401.53 L334.85,401.46 L335.1,401.37 L335.35,401.27 L335.6,401.17 L335.85,401.05 L336.1,400.92 L336.35,400.77 L336.6,400.61 L336.85,400.44 L337.1,400.26 L337.35,400.06 L337.6,399.85 L337.85,399.62 L338.1,399.39 L338.35,399.14 L338.6,398.89 L338.85,398.62 L339.1,398.35 L339.35,398.08 L339.6,397.81 L339.85,397.53 L340.1,397.26 L340.35,397 L340.6,396.75 L340.85,396.5 L341.1,396.28 L341.35,396.07 L341.6,395.88 L341.85,395.71 L342.1,395.57 L342.35,395.45 L342.6,395.37 L342.85,395.31 L343.1,395.28 L343.35,395.29 L343.6,395.32 L343.85,395.39 L344.1,395.5 L344.35,395.63 L344.6,395.8 L344.85,395.98 L345.1,396.2 L345.35,396.43 L345.6,396.68 L345.85,396.95 L346.1,397.23 L346.35,397.51 L346.6,397.8 L346.85,398.09 L347.1,398.38 L347.35,398.66 L347.6,398.94 L347.85,399.21 L348.1,399.47 L348.35,399.71 L348.6,399.94 L348.85,400.16 L349.1,400.36 L349.35,400.55 L349.6,400.72 L349.85,400.88 L350.1,401.02 L350.35,401.15 L350.6,401.26 L350.85,401.37 L351.1,401.46 L351.35,401.53 L351.6,401.6 L351.85,401.66 L352.1,401.72 L352.35,401.76 L352.6,401.8 L352.85,401.83 L353.1,401.86 L353.35,401.88 L353.6,401.9 L353.85,401.91 L354.1,401.93 L354.1,401.98 Z" fill="#512762"/>
<path d="M333.35,418.24 L333.35,418.18 L333.6,418.16 L333.85,418.14 L334.1,418.12 L334.35,418.09 L334.6,418.06 L334.85,418.02 L335.1,417.97 L335.35,417.92 L335.6,417.85 L335.85,417.78 L336.1,417.69 L336.35,417.59 L336.6,417.48 L336.85,417.35 L337.1,417.21 L337.35,417.05 L337.6,416.87 L337.85,416.68 L338.1,416.47 L338.35,416.23 L338.6,415.98 L338.85,415.72 L339.1,415.43 L339.35,415.14 L339.6,414.82 L339.85,414.5 L340.1,414.17 L340.35,413.83 L340.6,413.49 L340.85,413.16 L341.1,412.83 L341.35,412.5 L341.6,412.19 L341.85,411.9 L342.1,411.63 L342.35,411.39 L342.6,411.18 L342.85,410.99 L343.1,410.85 L343.35,410.74 L343.6,410.67 L343.85,410.64 L344.1,410.65 L344.35,410.71 L344.6,410.81 L344.85,410.96 L345.1,411.14 L345.35,411.36 L345.6,411.61 L345.85,411.89 L346.1,412.2 L346.35,412.52 L346.6,412.86 L346.85,413.21 L347.1,413.56 L347.35,413.91 L347.6,414.26 L347.85,414.61 L348.1,414.94 L348.35,415.26 L348.6,415.57 L348.85,415.86 L349.1,416.13 L349.35,416.38 L349.6,416.61 L349.85,416.82 L350.1,417.01 L350.35,417.18 L350.6,417.33 L350.85,417.47 L351.1,417.59 L351.35,417.69 L351.6,417.78 L351.85,417.86 L352.1,417.92 L352.35,417.98 L352.6,418.03 L352.85,418.07 L353.1,418.1 L353.35,418.13 L353.6,418.15 L353.85,418.17 L354.1,418.18 L354.1,418.24 Z" fill="#DA8A17"/>
<path d="M334.35,434.5 L334.35,434.44 L334.6,434.42 L334.85,434.4 L335.1,434.37 L335.35,434.34 L335.6,434.3 L335.85,434.25 L336.1,434.19 L336.35,434.12 L336.6,434.03 L336.85,433.94 L337.1,433.82 L337.35,433.69 L337.6,433.54 L337.85,433.37 L338.1,433.18 L338.35,432.97 L338.6,432.74 L338.85,432.49 L339.1,432.22 L339.35,431.93 L339.6,431.63 L339.85,431.32 L340.1,431 L340.35,430.67 L340.6,430.35 L340.85,430.04 L341.1,429.73 L341.35,429.44 L341.6,429.18 L341.85,428.94 L342.1,428.73 L342.35,428.56 L342.6,428.43 L342.85,428.34 L343.1,428.3 L343.35,428.31 L343.6,428.36 L343.85,428.45 L344.1,428.59 L344.35,428.77 L344.6,428.98 L344.85,429.23 L345.1,429.5 L345.35,429.79 L345.6,430.1 L345.85,430.42 L346.1,430.74 L346.35,431.06 L346.6,431.38 L346.85,431.69 L347.1,431.99 L347.35,432.27 L347.6,432.54 L347.85,432.79 L348.1,433.01 L348.35,433.22 L348.6,433.4 L348.85,433.57 L349.1,433.72 L349.35,433.85 L349.6,433.96 L349.85,434.05 L350.1,434.13 L350.35,434.2 L350.6,434.26 L350.85,434.31 L351.1,434.35 L351.35,434.38 L351.6,434.41 L351.85,434.43 L352.1,434.44 L352.1,434.5 Z" fill="#3A6852"/>
<path d="M371.8,353.2 L371.8,353.15 L372.05,353.14 L372.3,353.14 L372.55,353.13 L372.8,353.12 L373.05,353.11 L373.3,353.1 L373.55,353.09 L373.8,353.08 L374.05,353.07 L374.3,353.06 L374.55,353.04 L374.8,353.03 L375.05,353.01 L375.3,352.99 L375.55,352.97 L375.8,352.95 L376.05,352.93 L376.3,352.9 L376.55,352.88 L376.8,352.85 L377.05,352.82 L377.3,352.79 L377.55,352.75 L377.8,352.72 L378.05,352.68 L378.3,352.64 L378.55,352.59 L378.8,352.55 L379.05,352.5 L379.3,352.45 L379.55,352.39 L379.8,352.34 L380.05,352.28 L380.3,352.22 L380.55,352.15 L380.8,352.08 L381.05,352.01 L381.3,351.94 L381.55,351.86 L381.8,351.78 L382.05,351.7 L382.3,351.61 L382.55,351.53 L382.8,351.44 L383.05,351.34 L383.3,351.25 L383.55,351.15 L383.8,351.05 L384.05,350.95 L384.3,350.84 L384.55,350.74 L384.8,350.63 L385.05,350.52 L385.3,350.42 L385.55,350.31 L385.8,350.2 L386.05,350.08 L386.3,349.97 L386.55,349.86 L386.8,349.75 L387.05,349.65 L387.3,349.54 L387.55,349.43 L387.8,349.33 L388.05,349.23 L388.3,349.13 L388.55,349.03 L388.8,348.94 L389.05,348.85 L389.3,348.76 L389.55,348.68 L389.8,348.61 L390.05,348.53 L390.3,348.47 L390.55,348.4 L390.8,348.35 L391.05,348.29 L391.3,348.25 L391.55,348.21 L391.8,348.17 L392.05,348.15 L392.3,348.13 L392.55,348.11 L392.8,348.1 L393.05,348.1 L393.3,348.12 L393.55,348.15 L393.8,348.21 L394.05,348.28 L394.3,348.38 L394.55,348.49 L394.8,348.62 L395.05,348.76 L395.3,348.91 L395.55,349.08 L395.8,349.26 L396.05,349.44 L396.3,349.63 L396.55,349.83 L396.8,350.03 L397.05,350.23 L397.3,350.42 L397.55,350.62 L397.8,350.81 L398.05,350.99 L398.3,351.17 L398.55,351.35 L398.8,351.51 L399.05,351.67 L399.3,351.82 L399.55,351.96 L399.8,352.08 L400.05,352.2 L400.3,352.32 L400.55,352.42 L400.8,352.51 L401.05,352.59 L401.3,352.67 L401.55,352.74 L401.8,352.8 L402.05,352.85 L402.3,352.9 L402.55,352.95 L402.8,352.98 L403.05,353.02 L403.3,353.04 L403.55,353.07 L403.8,353.09 L404.05,353.11 L404.3,353.12 L404.55,353.14 L404.8,353.15 L404.8,353.2 Z" fill="#A3002B"/>
<path d="M435.05,369.46 L435.05,369.4 L435.3,369.37 L435.55,369.35 L435.8,369.31 L436.05,369.26 L436.3,369.2 L436.55,369.12 L436.8,369.02 L437.05,368.9 L437.3,368.76 L437.55,368.58 L437.8,368.36 L438.05,368.11 L438.3,367.81 L438.55,367.46 L438.8,367.07 L439.05,366.61 L439.3,366.1 L439.55,365.53 L439.8,364.9 L440.05,364.21 L440.3,363.48 L440.55,362.7 L440.8,361.88 L441.05,361.04 L441.3,360.18 L441.55,359.32 L441.8,358.48 L442.05,357.67 L442.3,356.91 L442.55,356.21 L442.8,355.6 L443.05,355.08 L443.3,354.67 L443.55,354.37 L443.8,354.2 L444.05,354.16 L444.3,354.25 L444.55,354.47 L444.8,354.82 L445.05,355.27 L445.3,355.83 L445.55,356.48 L445.8,357.21 L446.05,357.99 L446.3,358.82 L446.55,359.67 L446.8,360.52 L447.05,361.38 L447.3,362.21 L447.55,363.01 L447.8,363.78 L448.05,364.49 L448.3,365.16 L448.55,365.76 L448.8,366.31 L449.05,366.8 L449.3,367.23 L449.55,367.61 L449.8,367.94 L450.05,368.22 L450.3,368.45 L450.55,368.65 L450.8,368.82 L451.05,368.95 L451.3,369.06 L451.55,369.15 L451.8,369.22 L452.05,369.28 L452.3,369.32 L452.55,369.36 L452.8,369.38 L453.05,369.4 L453.05,369.46 Z" fill="#2D4A7A"/>
<path d="M436.3,385.72 L436.3,385.66 L436.55,385.65 L436.8,385.64 L437.05,385.62 L437.3,385.61 L437.55,385.59 L437.8,385.56 L438.05,385.53 L438.3,385.5 L438.55,385.47 L438.8,385.43 L439.05,385.38 L439.3,385.33 L439.55,385.27 L439.8,385.2 L440.05,385.13 L440.3,385.05 L440.55,384.96 L440.8,384.86 L441.05,384.75 L441.3,384.63 L441.55,384.5 L441.8,384.36 L442.05,384.21 L442.3,384.05 L442.55,383.88 L442.8,383.7 L443.05,383.51 L443.3,383.3 L443.55,383.1 L443.8,382.88 L444.05,382.65 L444.3,382.42 L444.55,382.19 L444.8,381.95 L445.05,381.7 L445.3,381.46 L445.55,381.22 L445.8,380.99 L446.05,380.75 L446.3,380.53 L446.55,380.31 L446.8,380.11 L447.05,379.92 L447.3,379.74 L447.55,379.58 L447.8,379.43 L448.05,379.31 L448.3,379.21 L448.55,379.13 L448.8,379.07 L449.05,379.03 L449.3,379.02 L449.55,379.04 L449.8,379.1 L450.05,379.2 L450.3,379.33 L450.55,379.5 L450.8,379.7 L451.05,379.92 L451.3,380.18 L451.55,380.45 L451.8,380.74 L452.05,381.04 L452.3,381.34 L452.55,381.66 L452.8,381.97 L453.05,382.28 L453.3,382.58 L453.55,382.87 L453.8,383.15 L454.05,383.42 L454.3,383.67 L454.55,383.9 L454.8,384.12 L455.05,384.32 L455.3,384.5 L455.55,384.67 L455.8,384.81 L456.05,384.94 L456.3,385.06 L456.55,385.16 L456.8,385.25 L457.05,385.33 L457.3,385.4 L457.55,385.45 L457.8,385.5 L458.05,385.54 L458.3,385.58 L458.55,385.6 L458.8,385.63 L459.05,385.65 L459.3,385.66 L459.3,385.72 Z" fill="#6BA543"/>
<path d="M437.55,401.98 L437.55,401.93 L437.8,401.92 L438.05,401.9 L438.3,401.89 L438.55,401.87 L438.8,401.84 L439.05,401.81 L439.3,401.78 L439.55,401.74 L439.8,401.7 L440.05,401.65 L440.3,401.59 L440.55,401.52 L440.8,401.44 L441.05,401.36 L441.3,401.26 L441.55,401.15 L441.8,401.03 L442.05,400.9 L442.3,400.75 L442.55,400.59 L442.8,400.42 L443.05,400.24 L443.3,400.04 L443.55,399.83 L443.8,399.61 L444.05,399.37 L444.3,399.13 L444.55,398.88 L444.8,398.63 L445.05,398.37 L445.3,398.11 L445.55,397.85 L445.8,397.59 L446.05,397.34 L446.3,397.09 L446.55,396.86 L446.8,396.64 L447.05,396.44 L447.3,396.26 L447.55,396.1 L447.8,395.96 L448.05,395.85 L448.3,395.76 L448.55,395.71 L448.8,395.68 L449.05,395.69 L449.3,395.72 L449.55,395.78 L449.8,395.87 L450.05,395.99 L450.3,396.14 L450.55,396.31 L450.8,396.5 L451.05,396.71 L451.3,396.94 L451.55,397.18 L451.8,397.43 L452.05,397.68 L452.3,397.95 L452.55,398.21 L452.8,398.48 L453.05,398.74 L453.3,398.99 L453.55,399.24 L453.8,399.49 L454.05,399.72 L454.3,399.93 L454.55,400.14 L454.8,400.34 L455.05,400.52 L455.3,400.68 L455.55,400.84 L455.8,400.98 L456.05,401.1 L456.3,401.22 L456.55,401.32 L456.8,401.41 L457.05,401.49 L457.3,401.57 L457.55,401.63 L457.8,401.68 L458.05,401.73 L458.3,401.77 L458.55,401.81 L458.8,401.84 L459.05,401.86 L459.3,401.88 L459.55,401.9 L459.8,401.92 L460.05,401.93 L460.05,401.98 Z" fill="#512762"/>
<path d="M438.05,418.24 L438.05,418.19 L438.3,418.18 L438.55,418.16 L438.8,418.14 L439.05,418.12 L439.3,418.1 L439.55,418.07 L439.8,418.03 L440.05,417.99 L440.3,417.94 L440.55,417.89 L440.8,417.82 L441.05,417.75 L441.3,417.66 L441.55,417.57 L441.8,417.46 L442.05,417.35 L442.3,417.21 L442.55,417.07 L442.8,416.91 L443.05,416.73 L443.3,416.54 L443.55,416.34 L443.8,416.12 L444.05,415.89 L444.3,415.65 L444.55,415.39 L444.8,415.13 L445.05,414.85 L445.3,414.57 L445.55,414.29 L445.8,414 L446.05,413.72 L446.3,413.43 L446.55,413.16 L446.8,412.9 L447.05,412.65 L447.3,412.41 L447.55,412.2 L447.8,412.01 L448.05,411.84 L448.3,411.7 L448.55,411.59 L448.8,411.51 L449.05,411.46 L449.3,411.44 L449.55,411.46 L449.8,411.51 L450.05,411.59 L450.3,411.71 L450.55,411.86 L450.8,412.04 L451.05,412.24 L451.3,412.46 L451.55,412.71 L451.8,412.97 L452.05,413.25 L452.3,413.53 L452.55,413.82 L452.8,414.12 L453.05,414.41 L453.3,414.7 L453.55,414.99 L453.8,415.26 L454.05,415.53 L454.3,415.79 L454.55,416.03 L454.8,416.26 L455.05,416.48 L455.3,416.68 L455.55,416.86 L455.8,417.03 L456.05,417.18 L456.3,417.32 L456.55,417.44 L456.8,417.56 L457.05,417.65 L457.3,417.74 L457.55,417.82 L457.8,417.88 L458.05,417.94 L458.3,417.99 L458.55,418.03 L458.8,418.07 L459.05,418.1 L459.3,418.13 L459.55,418.15 L459.8,418.16 L460.05,418.18 L460.05,418.24 Z" fill="#DA8A17"/>
<path d="M439.8,434.5 L439.8,434.44 L440.05,434.43 L440.3,434.41 L440.55,434.39 L440.8,434.36 L441.05,434.32 L441.3,434.28 L441.55,434.23 L441.8,434.17 L442.05,434.09 L442.3,434.01 L442.55,433.91 L442.8,433.8 L443.05,433.68 L443.3,433.54 L443.55,433.38 L443.8,433.2 L444.05,433.01 L444.3,432.8 L444.55,432.58 L444.8,432.34 L445.05,432.09 L445.3,431.82 L445.55,431.55 L445.8,431.28 L446.05,431 L446.3,430.72 L446.55,430.45 L446.8,430.2 L447.05,429.95 L447.3,429.73 L447.55,429.53 L447.8,429.36 L448.05,429.22 L448.3,429.11 L448.55,429.04 L448.8,429 L449.05,429.01 L449.3,429.05 L449.55,429.13 L449.8,429.24 L450.05,429.39 L450.3,429.57 L450.55,429.77 L450.8,430 L451.05,430.25 L451.3,430.51 L451.55,430.78 L451.8,431.05 L452.05,431.33 L452.3,431.61 L452.55,431.88 L452.8,432.14 L453.05,432.39 L453.3,432.62 L453.55,432.85 L453.8,433.05 L454.05,433.24 L454.3,433.41 L454.55,433.57 L454.8,433.7 L455.05,433.83 L455.3,433.93 L455.55,434.03 L455.8,434.11 L456.05,434.18 L456.3,434.24 L456.55,434.29 L456.8,434.33 L457.05,434.36 L457.3,434.39 L457.55,434.41 L457.8,434.43 L458.05,434.45 L458.05,434.5 Z" fill="#3A6852"/>
<rect x="55.6" y="335.5" width="98.6" height="99" fill="none" stroke="#000" stroke-width="1.35"/>
<rect x="160.1" y="335.5" width="98.7" height="99" fill="none" stroke="#000" stroke-width="1.35"/>
<rect x="264.6" y="335.5" width="99.7" height="99" fill="none" stroke="#000" stroke-width="1.35"/>
<rect x="369.8" y="335.5" width="98.6" height="99" fill="none" stroke="#000" stroke-width="1.35"/>
<text x="17.3" y="350.6" font-size="7.8" textLength="34.8" lengthAdjust="spacingAndGlyphs" fill="#231F20" >Unstained</text>
<text x="5.8" y="366.4" font-size="7.8" textLength="46.3" lengthAdjust="spacingAndGlyphs" fill="#231F20" >No irradiation</text>
<text x="33.2" y="382.3" font-size="7.8" textLength="18.9" lengthAdjust="spacingAndGlyphs" fill="#231F20" >30 Gy</text>
<text x="33.5" y="398.6" font-size="7.8" textLength="18.6" lengthAdjust="spacingAndGlyphs" fill="#231F20" >35 Gy</text>
<text x="32.8" y="414.3" font-size="7.8" textLength="19.3" lengthAdjust="spacingAndGlyphs" fill="#231F20" >40 Gy</text>
<text x="33.1" y="430.2" font-size="7.8" textLength="19" lengthAdjust="spacingAndGlyphs" fill="#231F20" >50 Gy</text>
<text x="53.8" y="447.7" font-size="6.5" textLength="3.6" lengthAdjust="spacingAndGlyphs" fill="#231F20" >0</text>
<text x="68.3" y="447.7" font-size="6.8" textLength="7.9" lengthAdjust="spacingAndGlyphs" fill="#231F20" >10</text>
<text x="76.8" y="444.9" font-size="5.3" textLength="1.6" lengthAdjust="spacingAndGlyphs" fill="#231F20" >1</text>
<text x="86.7" y="447.7" font-size="6.8" textLength="7.9" lengthAdjust="spacingAndGlyphs" fill="#231F20" >10</text>
<text x="95.3" y="444.9" font-size="5.3" textLength="2.3" lengthAdjust="spacingAndGlyphs" fill="#231F20" >2</text>
<text x="104.8" y="447.7" font-size="6.8" textLength="7.9" lengthAdjust="spacingAndGlyphs" fill="#231F20" >10</text>
<text x="113.4" y="444.9" font-size="5.3" textLength="2.3" lengthAdjust="spacingAndGlyphs" fill="#231F20" >3</text>
<text x="123" y="447.7" font-size="6.8" textLength="7.9" lengthAdjust="spacingAndGlyphs" fill="#231F20" >10</text>
<text x="131.6" y="444.9" font-size="5.3" textLength="2.3" lengthAdjust="spacingAndGlyphs" fill="#231F20" >4</text>
<text x="141.1" y="447.7" font-size="6.8" textLength="7.9" lengthAdjust="spacingAndGlyphs" fill="#231F20" >10</text>
<text x="149.7" y="444.9" font-size="5.3" textLength="2.3" lengthAdjust="spacingAndGlyphs" fill="#231F20" >5</text>
<line x1="72" y1="434.5" x2="72" y2="437.5" stroke="#000" stroke-width="0.8"/>
<line x1="91.6" y1="434.5" x2="91.6" y2="437.5" stroke="#000" stroke-width="0.8"/>
<line x1="109.6" y1="434.5" x2="109.6" y2="437.5" stroke="#000" stroke-width="0.8"/>
<line x1="127.6" y1="434.5" x2="127.6" y2="437.5" stroke="#000" stroke-width="0.8"/>
<line x1="145.8" y1="434.5" x2="145.8" y2="437.5" stroke="#000" stroke-width="0.8"/>
<line x1="77.9" y1="434.5" x2="77.9" y2="436.7" stroke="#000" stroke-width="0.6"/>
<line x1="81.35" y1="434.5" x2="81.35" y2="436.7" stroke="#000" stroke-width="0.6"/>
<line x1="83.8" y1="434.5" x2="83.8" y2="436.7" stroke="#000" stroke-width="0.6"/>
<line x1="85.7" y1="434.5" x2="85.7" y2="436.7" stroke="#000" stroke-width="0.6"/>
<line x1="87.25" y1="434.5" x2="87.25" y2="436.7" stroke="#000" stroke-width="0.6"/>
<line x1="88.56" y1="434.5" x2="88.56" y2="436.7" stroke="#000" stroke-width="0.6"/>
<line x1="89.7" y1="434.5" x2="89.7" y2="436.7" stroke="#000" stroke-width="0.6"/>
<line x1="90.7" y1="434.5" x2="90.7" y2="436.7" stroke="#000" stroke-width="0.6"/>
<line x1="97.02" y1="434.5" x2="97.02" y2="436.7" stroke="#000" stroke-width="0.6"/>
<line x1="100.19" y1="434.5" x2="100.19" y2="436.7" stroke="#000" stroke-width="0.6"/>
<line x1="102.44" y1="434.5" x2="102.44" y2="436.7" stroke="#000" stroke-width="0.6"/>
<line x1="104.18" y1="434.5" x2="104.18" y2="436.7" stroke="#000" stroke-width="0.6"/>
<line x1="105.61" y1="434.5" x2="105.61" y2="436.7" stroke="#000" stroke-width="0.6"/>
<line x1="106.81" y1="434.5" x2="106.81" y2="436.7" stroke="#000" stroke-width="0.6"/>
<line x1="107.86" y1="434.5" x2="107.86" y2="436.7" stroke="#000" stroke-width="0.6"/>
<line x1="108.78" y1="434.5" x2="108.78" y2="436.7" stroke="#000" stroke-width="0.6"/>
<line x1="115.02" y1="434.5" x2="115.02" y2="436.7" stroke="#000" stroke-width="0.6"/>
<line x1="118.19" y1="434.5" x2="118.19" y2="436.7" stroke="#000" stroke-width="0.6"/>
<line x1="120.44" y1="434.5" x2="120.44" y2="436.7" stroke="#000" stroke-width="0.6"/>
<line x1="122.18" y1="434.5" x2="122.18" y2="436.7" stroke="#000" stroke-width="0.6"/>
<line x1="123.61" y1="434.5" x2="123.61" y2="436.7" stroke="#000" stroke-width="0.6"/>
<line x1="124.81" y1="434.5" x2="124.81" y2="436.7" stroke="#000" stroke-width="0.6"/>
<line x1="125.86" y1="434.5" x2="125.86" y2="436.7" stroke="#000" stroke-width="0.6"/>
<line x1="126.78" y1="434.5" x2="126.78" y2="436.7" stroke="#000" stroke-width="0.6"/>
<line x1="133.08" y1="434.5" x2="133.08" y2="436.7" stroke="#000" stroke-width="0.6"/>
<line x1="136.28" y1="434.5" x2="136.28" y2="436.7" stroke="#000" stroke-width="0.6"/>
<line x1="138.56" y1="434.5" x2="138.56" y2="436.7" stroke="#000" stroke-width="0.6"/>
<line x1="140.32" y1="434.5" x2="140.32" y2="436.7" stroke="#000" stroke-width="0.6"/>
<line x1="141.76" y1="434.5" x2="141.76" y2="436.7" stroke="#000" stroke-width="0.6"/>
<line x1="142.98" y1="434.5" x2="142.98" y2="436.7" stroke="#000" stroke-width="0.6"/>
<line x1="144.04" y1="434.5" x2="144.04" y2="436.7" stroke="#000" stroke-width="0.6"/>
<line x1="144.97" y1="434.5" x2="144.97" y2="436.7" stroke="#000" stroke-width="0.6"/>
<line x1="58.33" y1="434.5" x2="58.33" y2="436.7" stroke="#000" stroke-width="0.6"/>
<line x1="61.07" y1="434.5" x2="61.07" y2="436.7" stroke="#000" stroke-width="0.6"/>
<line x1="63.8" y1="434.5" x2="63.8" y2="436.7" stroke="#000" stroke-width="0.6"/>
<line x1="66.53" y1="434.5" x2="66.53" y2="436.7" stroke="#000" stroke-width="0.6"/>
<line x1="69.27" y1="434.5" x2="69.27" y2="436.7" stroke="#000" stroke-width="0.6"/>
<line x1="55.6" y1="434.5" x2="55.6" y2="437.8" stroke="#231F20" stroke-width="0.8"/>
<text x="158.3" y="447.7" font-size="6.5" textLength="3.6" lengthAdjust="spacingAndGlyphs" fill="#231F20" >0</text>
<text x="172.8" y="447.7" font-size="6.8" textLength="7.9" lengthAdjust="spacingAndGlyphs" fill="#231F20" >10</text>
<text x="181.3" y="444.9" font-size="5.3" textLength="1.6" lengthAdjust="spacingAndGlyphs" fill="#231F20" >1</text>
<text x="191.2" y="447.7" font-size="6.8" textLength="7.9" lengthAdjust="spacingAndGlyphs" fill="#231F20" >10</text>
<text x="199.8" y="444.9" font-size="5.3" textLength="2.3" lengthAdjust="spacingAndGlyphs" fill="#231F20" >2</text>
<text x="209.3" y="447.7" font-size="6.8" textLength="7.9" lengthAdjust="spacingAndGlyphs" fill="#231F20" >10</text>
<text x="217.9" y="444.9" font-size="5.3" textLength="2.3" lengthAdjust="spacingAndGlyphs" fill="#231F20" >3</text>
<text x="227.5" y="447.7" font-size="6.8" textLength="7.9" lengthAdjust="spacingAndGlyphs" fill="#231F20" >10</text>
<text x="236.1" y="444.9" font-size="5.3" textLength="2.3" lengthAdjust="spacingAndGlyphs" fill="#231F20" >4</text>
<text x="245.6" y="447.7" font-size="6.8" textLength="7.9" lengthAdjust="spacingAndGlyphs" fill="#231F20" >10</text>
<text x="254.2" y="444.9" font-size="5.3" textLength="2.3" lengthAdjust="spacingAndGlyphs" fill="#231F20" >5</text>
<line x1="176.5" y1="434.5" x2="176.5" y2="437.5" stroke="#000" stroke-width="0.8"/>
<line x1="196.1" y1="434.5" x2="196.1" y2="437.5" stroke="#000" stroke-width="0.8"/>
<line x1="214.1" y1="434.5" x2="214.1" y2="437.5" stroke="#000" stroke-width="0.8"/>
<line x1="232.1" y1="434.5" x2="232.1" y2="437.5" stroke="#000" stroke-width="0.8"/>
<line x1="250.3" y1="434.5" x2="250.3" y2="437.5" stroke="#000" stroke-width="0.8"/>
<line x1="182.4" y1="434.5" x2="182.4" y2="436.7" stroke="#000" stroke-width="0.6"/>
<line x1="185.85" y1="434.5" x2="185.85" y2="436.7" stroke="#000" stroke-width="0.6"/>
<line x1="188.3" y1="434.5" x2="188.3" y2="436.7" stroke="#000" stroke-width="0.6"/>
<line x1="190.2" y1="434.5" x2="190.2" y2="436.7" stroke="#000" stroke-width="0.6"/>
<line x1="191.75" y1="434.5" x2="191.75" y2="436.7" stroke="#000" stroke-width="0.6"/>
<line x1="193.06" y1="434.5" x2="193.06" y2="436.7" stroke="#000" stroke-width="0.6"/>
<line x1="194.2" y1="434.5" x2="194.2" y2="436.7" stroke="#000" stroke-width="0.6"/>
<line x1="195.2" y1="434.5" x2="195.2" y2="436.7" stroke="#000" stroke-width="0.6"/>
<line x1="201.52" y1="434.5" x2="201.52" y2="436.7" stroke="#000" stroke-width="0.6"/>
<line x1="204.69" y1="434.5" x2="204.69" y2="436.7" stroke="#000" stroke-width="0.6"/>
<line x1="206.94" y1="434.5" x2="206.94" y2="436.7" stroke="#000" stroke-width="0.6"/>
<line x1="208.68" y1="434.5" x2="208.68" y2="436.7" stroke="#000" stroke-width="0.6"/>
<line x1="210.11" y1="434.5" x2="210.11" y2="436.7" stroke="#000" stroke-width="0.6"/>
<line x1="211.31" y1="434.5" x2="211.31" y2="436.7" stroke="#000" stroke-width="0.6"/>
<line x1="212.36" y1="434.5" x2="212.36" y2="436.7" stroke="#000" stroke-width="0.6"/>
<line x1="213.28" y1="434.5" x2="213.28" y2="436.7" stroke="#000" stroke-width="0.6"/>
<line x1="219.52" y1="434.5" x2="219.52" y2="436.7" stroke="#000" stroke-width="0.6"/>
<line x1="222.69" y1="434.5" x2="222.69" y2="436.7" stroke="#000" stroke-width="0.6"/>
<line x1="224.94" y1="434.5" x2="224.94" y2="436.7" stroke="#000" stroke-width="0.6"/>
<line x1="226.68" y1="434.5" x2="226.68" y2="436.7" stroke="#000" stroke-width="0.6"/>
<line x1="228.11" y1="434.5" x2="228.11" y2="436.7" stroke="#000" stroke-width="0.6"/>
<line x1="229.31" y1="434.5" x2="229.31" y2="436.7" stroke="#000" stroke-width="0.6"/>
<line x1="230.36" y1="434.5" x2="230.36" y2="436.7" stroke="#000" stroke-width="0.6"/>
<line x1="231.28" y1="434.5" x2="231.28" y2="436.7" stroke="#000" stroke-width="0.6"/>
<line x1="237.58" y1="434.5" x2="237.58" y2="436.7" stroke="#000" stroke-width="0.6"/>
<line x1="240.78" y1="434.5" x2="240.78" y2="436.7" stroke="#000" stroke-width="0.6"/>
<line x1="243.06" y1="434.5" x2="243.06" y2="436.7" stroke="#000" stroke-width="0.6"/>
<line x1="244.82" y1="434.5" x2="244.82" y2="436.7" stroke="#000" stroke-width="0.6"/>
<line x1="246.26" y1="434.5" x2="246.26" y2="436.7" stroke="#000" stroke-width="0.6"/>
<line x1="247.48" y1="434.5" x2="247.48" y2="436.7" stroke="#000" stroke-width="0.6"/>
<line x1="248.54" y1="434.5" x2="248.54" y2="436.7" stroke="#000" stroke-width="0.6"/>
<line x1="249.47" y1="434.5" x2="249.47" y2="436.7" stroke="#000" stroke-width="0.6"/>
<line x1="162.83" y1="434.5" x2="162.83" y2="436.7" stroke="#000" stroke-width="0.6"/>
<line x1="165.57" y1="434.5" x2="165.57" y2="436.7" stroke="#000" stroke-width="0.6"/>
<line x1="168.3" y1="434.5" x2="168.3" y2="436.7" stroke="#000" stroke-width="0.6"/>
<line x1="171.03" y1="434.5" x2="171.03" y2="436.7" stroke="#000" stroke-width="0.6"/>
<line x1="173.77" y1="434.5" x2="173.77" y2="436.7" stroke="#000" stroke-width="0.6"/>
<line x1="160.1" y1="434.5" x2="160.1" y2="437.8" stroke="#231F20" stroke-width="0.8"/>
<text x="262.8" y="447.7" font-size="6.5" textLength="3.6" lengthAdjust="spacingAndGlyphs" fill="#231F20" >0</text>
<text x="277.3" y="447.7" font-size="6.8" textLength="7.9" lengthAdjust="spacingAndGlyphs" fill="#231F20" >10</text>
<text x="285.8" y="444.9" font-size="5.3" textLength="1.6" lengthAdjust="spacingAndGlyphs" fill="#231F20" >1</text>
<text x="295.7" y="447.7" font-size="6.8" textLength="7.9" lengthAdjust="spacingAndGlyphs" fill="#231F20" >10</text>
<text x="304.3" y="444.9" font-size="5.3" textLength="2.3" lengthAdjust="spacingAndGlyphs" fill="#231F20" >2</text>
<text x="313.8" y="447.7" font-size="6.8" textLength="7.9" lengthAdjust="spacingAndGlyphs" fill="#231F20" >10</text>
<text x="322.4" y="444.9" font-size="5.3" textLength="2.3" lengthAdjust="spacingAndGlyphs" fill="#231F20" >3</text>
<text x="332" y="447.7" font-size="6.8" textLength="7.9" lengthAdjust="spacingAndGlyphs" fill="#231F20" >10</text>
<text x="340.6" y="444.9" font-size="5.3" textLength="2.3" lengthAdjust="spacingAndGlyphs" fill="#231F20" >4</text>
<text x="350.1" y="447.7" font-size="6.8" textLength="7.9" lengthAdjust="spacingAndGlyphs" fill="#231F20" >10</text>
<text x="358.7" y="444.9" font-size="5.3" textLength="2.3" lengthAdjust="spacingAndGlyphs" fill="#231F20" >5</text>
<line x1="281" y1="434.5" x2="281" y2="437.5" stroke="#000" stroke-width="0.8"/>
<line x1="300.6" y1="434.5" x2="300.6" y2="437.5" stroke="#000" stroke-width="0.8"/>
<line x1="318.6" y1="434.5" x2="318.6" y2="437.5" stroke="#000" stroke-width="0.8"/>
<line x1="336.6" y1="434.5" x2="336.6" y2="437.5" stroke="#000" stroke-width="0.8"/>
<line x1="354.8" y1="434.5" x2="354.8" y2="437.5" stroke="#000" stroke-width="0.8"/>
<line x1="286.9" y1="434.5" x2="286.9" y2="436.7" stroke="#000" stroke-width="0.6"/>
<line x1="290.35" y1="434.5" x2="290.35" y2="436.7" stroke="#000" stroke-width="0.6"/>
<line x1="292.8" y1="434.5" x2="292.8" y2="436.7" stroke="#000" stroke-width="0.6"/>
<line x1="294.7" y1="434.5" x2="294.7" y2="436.7" stroke="#000" stroke-width="0.6"/>
<line x1="296.25" y1="434.5" x2="296.25" y2="436.7" stroke="#000" stroke-width="0.6"/>
<line x1="297.56" y1="434.5" x2="297.56" y2="436.7" stroke="#000" stroke-width="0.6"/>
<line x1="298.7" y1="434.5" x2="298.7" y2="436.7" stroke="#000" stroke-width="0.6"/>
<line x1="299.7" y1="434.5" x2="299.7" y2="436.7" stroke="#000" stroke-width="0.6"/>
<line x1="306.02" y1="434.5" x2="306.02" y2="436.7" stroke="#000" stroke-width="0.6"/>
<line x1="309.19" y1="434.5" x2="309.19" y2="436.7" stroke="#000" stroke-width="0.6"/>
<line x1="311.44" y1="434.5" x2="311.44" y2="436.7" stroke="#000" stroke-width="0.6"/>
<line x1="313.18" y1="434.5" x2="313.18" y2="436.7" stroke="#000" stroke-width="0.6"/>
<line x1="314.61" y1="434.5" x2="314.61" y2="436.7" stroke="#000" stroke-width="0.6"/>
<line x1="315.81" y1="434.5" x2="315.81" y2="436.7" stroke="#000" stroke-width="0.6"/>
<line x1="316.86" y1="434.5" x2="316.86" y2="436.7" stroke="#000" stroke-width="0.6"/>
<line x1="317.78" y1="434.5" x2="317.78" y2="436.7" stroke="#000" stroke-width="0.6"/>
<line x1="324.02" y1="434.5" x2="324.02" y2="436.7" stroke="#000" stroke-width="0.6"/>
<line x1="327.19" y1="434.5" x2="327.19" y2="436.7" stroke="#000" stroke-width="0.6"/>
<line x1="329.44" y1="434.5" x2="329.44" y2="436.7" stroke="#000" stroke-width="0.6"/>
<line x1="331.18" y1="434.5" x2="331.18" y2="436.7" stroke="#000" stroke-width="0.6"/>
<line x1="332.61" y1="434.5" x2="332.61" y2="436.7" stroke="#000" stroke-width="0.6"/>
<line x1="333.81" y1="434.5" x2="333.81" y2="436.7" stroke="#000" stroke-width="0.6"/>
<line x1="334.86" y1="434.5" x2="334.86" y2="436.7" stroke="#000" stroke-width="0.6"/>
<line x1="335.78" y1="434.5" x2="335.78" y2="436.7" stroke="#000" stroke-width="0.6"/>
<line x1="342.08" y1="434.5" x2="342.08" y2="436.7" stroke="#000" stroke-width="0.6"/>
<line x1="345.28" y1="434.5" x2="345.28" y2="436.7" stroke="#000" stroke-width="0.6"/>
<line x1="347.56" y1="434.5" x2="347.56" y2="436.7" stroke="#000" stroke-width="0.6"/>
<line x1="349.32" y1="434.5" x2="349.32" y2="436.7" stroke="#000" stroke-width="0.6"/>
<line x1="350.76" y1="434.5" x2="350.76" y2="436.7" stroke="#000" stroke-width="0.6"/>
<line x1="351.98" y1="434.5" x2="351.98" y2="436.7" stroke="#000" stroke-width="0.6"/>
<line x1="353.04" y1="434.5" x2="353.04" y2="436.7" stroke="#000" stroke-width="0.6"/>
<line x1="353.97" y1="434.5" x2="353.97" y2="436.7" stroke="#000" stroke-width="0.6"/>
<line x1="267.33" y1="434.5" x2="267.33" y2="436.7" stroke="#000" stroke-width="0.6"/>
<line x1="270.07" y1="434.5" x2="270.07" y2="436.7" stroke="#000" stroke-width="0.6"/>
<line x1="272.8" y1="434.5" x2="272.8" y2="436.7" stroke="#000" stroke-width="0.6"/>
<line x1="275.53" y1="434.5" x2="275.53" y2="436.7" stroke="#000" stroke-width="0.6"/>
<line x1="278.27" y1="434.5" x2="278.27" y2="436.7" stroke="#000" stroke-width="0.6"/>
<line x1="264.6" y1="434.5" x2="264.6" y2="437.8" stroke="#231F20" stroke-width="0.8"/>
<text x="368" y="447.7" font-size="6.5" textLength="3.6" lengthAdjust="spacingAndGlyphs" fill="#231F20" >0</text>
<text x="382.5" y="447.7" font-size="6.8" textLength="7.9" lengthAdjust="spacingAndGlyphs" fill="#231F20" >10</text>
<text x="391" y="444.9" font-size="5.3" textLength="1.6" lengthAdjust="spacingAndGlyphs" fill="#231F20" >1</text>
<text x="400.9" y="447.7" font-size="6.8" textLength="7.9" lengthAdjust="spacingAndGlyphs" fill="#231F20" >10</text>
<text x="409.5" y="444.9" font-size="5.3" textLength="2.3" lengthAdjust="spacingAndGlyphs" fill="#231F20" >2</text>
<text x="419" y="447.7" font-size="6.8" textLength="7.9" lengthAdjust="spacingAndGlyphs" fill="#231F20" >10</text>
<text x="427.6" y="444.9" font-size="5.3" textLength="2.3" lengthAdjust="spacingAndGlyphs" fill="#231F20" >3</text>
<text x="437.2" y="447.7" font-size="6.8" textLength="7.9" lengthAdjust="spacingAndGlyphs" fill="#231F20" >10</text>
<text x="445.8" y="444.9" font-size="5.3" textLength="2.3" lengthAdjust="spacingAndGlyphs" fill="#231F20" >4</text>
<text x="455.3" y="447.7" font-size="6.8" textLength="7.9" lengthAdjust="spacingAndGlyphs" fill="#231F20" >10</text>
<text x="463.9" y="444.9" font-size="5.3" textLength="2.3" lengthAdjust="spacingAndGlyphs" fill="#231F20" >5</text>
<line x1="386.2" y1="434.5" x2="386.2" y2="437.5" stroke="#000" stroke-width="0.8"/>
<line x1="405.8" y1="434.5" x2="405.8" y2="437.5" stroke="#000" stroke-width="0.8"/>
<line x1="423.8" y1="434.5" x2="423.8" y2="437.5" stroke="#000" stroke-width="0.8"/>
<line x1="441.8" y1="434.5" x2="441.8" y2="437.5" stroke="#000" stroke-width="0.8"/>
<line x1="460" y1="434.5" x2="460" y2="437.5" stroke="#000" stroke-width="0.8"/>
<line x1="392.1" y1="434.5" x2="392.1" y2="436.7" stroke="#000" stroke-width="0.6"/>
<line x1="395.55" y1="434.5" x2="395.55" y2="436.7" stroke="#000" stroke-width="0.6"/>
<line x1="398" y1="434.5" x2="398" y2="436.7" stroke="#000" stroke-width="0.6"/>
<line x1="399.9" y1="434.5" x2="399.9" y2="436.7" stroke="#000" stroke-width="0.6"/>
<line x1="401.45" y1="434.5" x2="401.45" y2="436.7" stroke="#000" stroke-width="0.6"/>
<line x1="402.76" y1="434.5" x2="402.76" y2="436.7" stroke="#000" stroke-width="0.6"/>
<line x1="403.9" y1="434.5" x2="403.9" y2="436.7" stroke="#000" stroke-width="0.6"/>
<line x1="404.9" y1="434.5" x2="404.9" y2="436.7" stroke="#000" stroke-width="0.6"/>
<line x1="411.22" y1="434.5" x2="411.22" y2="436.7" stroke="#000" stroke-width="0.6"/>
<line x1="414.39" y1="434.5" x2="414.39" y2="436.7" stroke="#000" stroke-width="0.6"/>
<line x1="416.64" y1="434.5" x2="416.64" y2="436.7" stroke="#000" stroke-width="0.6"/>
<line x1="418.38" y1="434.5" x2="418.38" y2="436.7" stroke="#000" stroke-width="0.6"/>
<line x1="419.81" y1="434.5" x2="419.81" y2="436.7" stroke="#000" stroke-width="0.6"/>
<line x1="421.01" y1="434.5" x2="421.01" y2="436.7" stroke="#000" stroke-width="0.6"/>
<line x1="422.06" y1="434.5" x2="422.06" y2="436.7" stroke="#000" stroke-width="0.6"/>
<line x1="422.98" y1="434.5" x2="422.98" y2="436.7" stroke="#000" stroke-width="0.6"/>
<line x1="429.22" y1="434.5" x2="429.22" y2="436.7" stroke="#000" stroke-width="0.6"/>
<line x1="432.39" y1="434.5" x2="432.39" y2="436.7" stroke="#000" stroke-width="0.6"/>
<line x1="434.64" y1="434.5" x2="434.64" y2="436.7" stroke="#000" stroke-width="0.6"/>
<line x1="436.38" y1="434.5" x2="436.38" y2="436.7" stroke="#000" stroke-width="0.6"/>
<line x1="437.81" y1="434.5" x2="437.81" y2="436.7" stroke="#000" stroke-width="0.6"/>
<line x1="439.01" y1="434.5" x2="439.01" y2="436.7" stroke="#000" stroke-width="0.6"/>
<line x1="440.06" y1="434.5" x2="440.06" y2="436.7" stroke="#000" stroke-width="0.6"/>
<line x1="440.98" y1="434.5" x2="440.98" y2="436.7" stroke="#000" stroke-width="0.6"/>
<line x1="447.28" y1="434.5" x2="447.28" y2="436.7" stroke="#000" stroke-width="0.6"/>
<line x1="450.48" y1="434.5" x2="450.48" y2="436.7" stroke="#000" stroke-width="0.6"/>
<line x1="452.76" y1="434.5" x2="452.76" y2="436.7" stroke="#000" stroke-width="0.6"/>
<line x1="454.52" y1="434.5" x2="454.52" y2="436.7" stroke="#000" stroke-width="0.6"/>
<line x1="455.96" y1="434.5" x2="455.96" y2="436.7" stroke="#000" stroke-width="0.6"/>
<line x1="457.18" y1="434.5" x2="457.18" y2="436.7" stroke="#000" stroke-width="0.6"/>
<line x1="458.24" y1="434.5" x2="458.24" y2="436.7" stroke="#000" stroke-width="0.6"/>
<line x1="459.17" y1="434.5" x2="459.17" y2="436.7" stroke="#000" stroke-width="0.6"/>
<line x1="372.53" y1="434.5" x2="372.53" y2="436.7" stroke="#000" stroke-width="0.6"/>
<line x1="375.27" y1="434.5" x2="375.27" y2="436.7" stroke="#000" stroke-width="0.6"/>
<line x1="378" y1="434.5" x2="378" y2="436.7" stroke="#000" stroke-width="0.6"/>
<line x1="380.73" y1="434.5" x2="380.73" y2="436.7" stroke="#000" stroke-width="0.6"/>
<line x1="383.47" y1="434.5" x2="383.47" y2="436.7" stroke="#000" stroke-width="0.6"/>
<line x1="369.8" y1="434.5" x2="369.8" y2="437.8" stroke="#231F20" stroke-width="0.8"/>
<line x1="55.4" y1="456.3" x2="251.48" y2="456.3" stroke="#231F20" stroke-width="1.3"/>
<path d="M257.6,456.3 L247.4,451.9 L249.24,456.3 L247.4,460.7 Z" fill="#000"/>
<line x1="264.6" y1="456.6" x2="466.18" y2="456.6" stroke="#231F20" stroke-width="1.3"/>
<path d="M472.3,456.6 L462.1,452.2 L463.94,456.6 L462.1,461 Z" fill="#000"/>
<text x="140.8" y="468.1" font-size="10.2" textLength="31.4" lengthAdjust="spacingAndGlyphs" fill="#231F20" >IL-15R&#945;</text>
<text x="357.3" y="468.5" font-size="10.2" textLength="22.3" lengthAdjust="spacingAndGlyphs" fill="#231F20" >CD80</text>
<text x="0" y="0" font-size="8.7" textLength="89.3" lengthAdjust="spacingAndGlyphs" fill="#231F20" transform="translate(474.4,339.2) rotate(90)">48 hrs post-irradiation</text>
</svg>
</body></html>
